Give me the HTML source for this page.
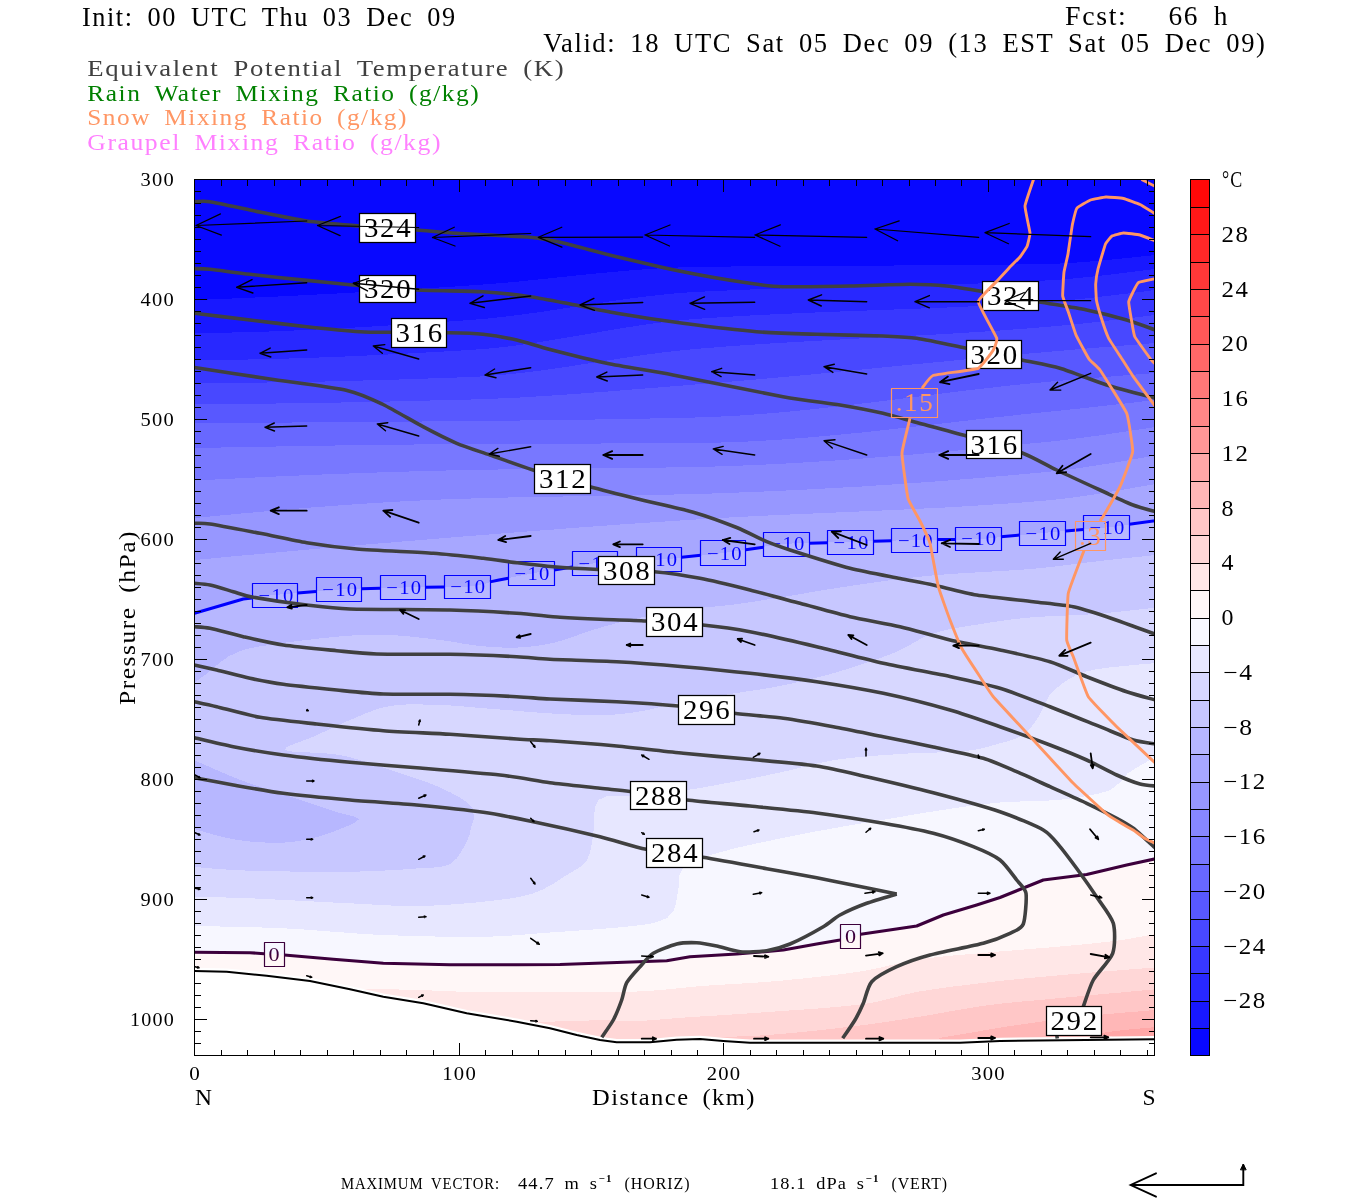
<!DOCTYPE html>
<html lang="en"><head><meta charset="utf-8"><title>Cross section: temperature, theta-e, mixing ratios</title>
<style>html,body{margin:0;padding:0;background:#fff}svg{display:block}text{font-family:"Liberation Serif", serif;}</style>
</head><body>
<svg width="1350" height="1200" viewBox="0 0 1350 1200">
<rect x="0" y="0" width="1350" height="1200" fill="#fff"/>
<defs><clipPath id="pc"><rect x="194.5" y="179.5" width="960" height="876"/></clipPath></defs>
<g clip-path="url(#pc)" shape-rendering="crispEdges">
<rect x="194.5" y="179.5" width="960" height="876" fill="#0808ff"/>
<polygon points="192.5,300 194.5,300 210.8,299.4 227,298.7 243.3,298.1 259.6,297.3 275.9,296.6 292.1,295.8 308.4,295 324.7,294.1 340.9,293.3 357.2,292.4 373.5,291.4 389.8,290.5 406,289.5 422.3,288.5 438.6,287.5 454.8,286.5 471.1,285.4 487.4,284.2 503.7,282.9 519.9,281.4 536.2,279.7 552.5,278 568.7,276.3 585,274.6 601.3,273 617.6,271.5 633.8,270.1 650.1,268.9 666.4,268 682.6,267.3 698.9,266.9 715.2,266.7 731.4,266.5 747.7,266.3 764,266.2 780.3,266 796.5,265.9 812.8,265.8 829.1,265.7 845.3,265.7 861.6,265.6 877.9,265.5 894.2,265.5 910.4,265.4 926.7,265.3 943,265.2 959.2,265.1 975.5,264.9 991.8,264.8 1008.1,264.6 1024.3,264.4 1040.6,264.1 1056.9,263.7 1073.1,262.8 1089.4,261.6 1105.7,260.1 1122,258.5 1138.2,256.8 1154.5,255.1 1156.5,255.1 1156.5,1057.5 192.5,1057.5" fill="#1818ff"/>
<polygon points="192.5,333 194.5,333 210.8,332.9 227,332.6 243.3,332.3 259.6,331.8 275.9,331.3 292.1,330.6 308.4,329.9 324.7,329.1 340.9,328.3 357.2,327.4 373.5,326.4 389.8,325.4 406,324.3 422.3,323.3 438.6,322.2 454.8,321.1 471.1,319.9 487.4,318.6 503.7,316.8 519.9,314.8 536.2,312.6 552.5,310.2 568.7,307.7 585,305.2 601.3,302.7 617.6,300.3 633.8,298 650.1,296 666.4,294.2 682.6,292.8 698.9,291.8 715.2,291 731.4,290.3 747.7,289.6 764,289 780.3,288.5 796.5,288 812.8,287.6 829.1,287.2 845.3,286.8 861.6,286.5 877.9,286.1 894.2,285.8 910.4,285.4 926.7,285 943,284.6 959.2,284.1 975.5,283.6 991.8,283 1008.1,282.3 1024.3,281.6 1040.6,280.8 1056.9,279.8 1073.1,278.5 1089.4,276.9 1105.7,275.1 1122,273.2 1138.2,271.1 1154.5,269.1 1156.5,269.1 1156.5,1057.5 192.5,1057.5" fill="#2828ff"/>
<polygon points="192.5,360 194.5,360 210.8,360 227,359.8 243.3,359.6 259.6,359.3 275.9,358.9 292.1,358.4 308.4,357.9 324.7,357.3 340.9,356.7 357.2,356 373.5,355.2 389.8,354.4 406,353.6 422.3,352.7 438.6,351.8 454.8,350.9 471.1,349.9 487.4,348.7 503.7,347 519.9,345 536.2,342.6 552.5,340 568.7,337.3 585,334.5 601.3,331.7 617.6,328.9 633.8,326.3 650.1,323.9 666.4,321.8 682.6,320.1 698.9,318.7 715.2,317.6 731.4,316.6 747.7,315.6 764,314.8 780.3,314 796.5,313.3 812.8,312.6 829.1,311.9 845.3,311.3 861.6,310.7 877.9,310.1 894.2,309.5 910.4,308.9 926.7,308.3 943,307.7 959.2,306.9 975.5,306.2 991.8,305.4 1008.1,304.5 1024.3,303.5 1040.6,302.4 1056.9,301.2 1073.1,299.7 1089.4,298 1105.7,296.1 1122,294.2 1138.2,292.2 1154.5,290.1 1156.5,290.1 1156.5,1057.5 192.5,1057.5" fill="#3838ff"/>
<polygon points="192.5,383 194.5,383 210.8,383 227,382.9 243.3,382.8 259.6,382.6 275.9,382.4 292.1,382.1 308.4,381.8 324.7,381.5 340.9,381.1 357.2,380.7 373.5,380.2 389.8,379.8 406,379.3 422.3,378.7 438.6,378.2 454.8,377.6 471.1,377 487.4,376.1 503.7,374.7 519.9,373.1 536.2,371.1 552.5,368.9 568.7,366.5 585,363.9 601.3,361.4 617.6,358.9 633.8,356.4 650.1,354.1 666.4,352 682.6,350.2 698.9,348.7 715.2,347.4 731.4,346.1 747.7,345 764,343.9 780.3,342.9 796.5,341.9 812.8,341 829.1,340.1 845.3,339.2 861.6,338.4 877.9,337.5 894.2,336.7 910.4,335.8 926.7,335 943,334.1 959.2,333.1 975.5,332.1 991.8,331.1 1008.1,329.9 1024.3,328.7 1040.6,327.4 1056.9,326 1073.1,324.5 1089.4,322.8 1105.7,320.9 1122,319 1138.2,317.1 1154.5,315.1 1156.5,315.1 1156.5,1057.5 192.5,1057.5" fill="#4848ff"/>
<polygon points="192.5,404 194.5,404 210.8,404 227,403.9 243.3,403.8 259.6,403.7 275.9,403.5 292.1,403.3 308.4,403.1 324.7,402.8 340.9,402.5 357.2,402.2 373.5,401.9 389.8,401.5 406,401.1 422.3,400.7 438.6,400.3 454.8,399.9 471.1,399.5 487.4,398.9 503.7,398.3 519.9,397.5 536.2,396.5 552.5,395.5 568.7,394.4 585,393.2 601.3,392 617.6,390.7 633.8,389.4 650.1,388.1 666.4,386.8 682.6,385.5 698.9,384.2 715.2,382.9 731.4,381.6 747.7,380.2 764,378.8 780.3,377.3 796.5,375.8 812.8,374.3 829.1,372.7 845.3,371.1 861.6,369.5 877.9,367.9 894.2,366.3 910.4,364.7 926.7,363.1 943,361.6 959.2,360 975.5,358.4 991.8,356.9 1008.1,355.4 1024.3,353.9 1040.6,352.5 1056.9,351.1 1073.1,349.7 1089.4,348.3 1105.7,347 1122,345.7 1138.2,344.4 1154.5,343.1 1156.5,343.1 1156.5,1057.5 192.5,1057.5" fill="#5858ff"/>
<polygon points="192.5,423 194.5,423 210.8,423 227,422.9 243.3,422.8 259.6,422.7 275.9,422.6 292.1,422.5 308.4,422.4 324.7,422.3 340.9,422.2 357.2,422.1 373.5,421.9 389.8,421.8 406,421.6 422.3,421.5 438.6,421.3 454.8,421.2 471.1,421 487.4,420.8 503.7,420.7 519.9,420.5 536.2,420.3 552.5,420.1 568.7,419.9 585,419.7 601.3,419.4 617.6,419.1 633.8,418.8 650.1,418.5 666.4,418.2 682.6,417.8 698.9,417.4 715.2,416.8 731.4,416 747.7,415 764,413.8 780.3,412.4 796.5,410.9 812.8,409.2 829.1,407.4 845.3,405.6 861.6,403.6 877.9,401.6 894.2,399.6 910.4,397.5 926.7,395.5 943,393.4 959.2,391.4 975.5,389.4 991.8,387.6 1008.1,385.7 1024.3,384.1 1040.6,382.5 1056.9,381 1073.1,379.6 1089.4,378.3 1105.7,376.9 1122,375.6 1138.2,374.3 1154.5,373.1 1156.5,373.1 1156.5,1057.5 192.5,1057.5" fill="#6868ff"/>
<polygon points="192.5,448 194.5,448 210.8,447.7 227,447.4 243.3,447.1 259.6,446.8 275.9,446.5 292.1,446.2 308.4,445.9 324.7,445.7 340.9,445.4 357.2,445.2 373.5,445 389.8,444.8 406,444.6 422.3,444.4 438.6,444.2 454.8,444.1 471.1,444 487.4,443.9 503.7,443.8 519.9,443.7 536.2,443.7 552.5,443.6 568.7,443.6 585,443.5 601.3,443.5 617.6,443.4 633.8,443.4 650.1,443.3 666.4,443.2 682.6,443.1 698.9,443 715.2,442.7 731.4,442.2 747.7,441.5 764,440.6 780.3,439.6 796.5,438.4 812.8,437.1 829.1,435.6 845.3,434.1 861.6,432.5 877.9,430.7 894.2,429 910.4,427.1 926.7,425.3 943,423.4 959.2,421.5 975.5,419.6 991.8,417.8 1008.1,416 1024.3,414.2 1040.6,412.5 1056.9,410.9 1073.1,409.2 1089.4,407.5 1105.7,405.7 1122,403.8 1138.2,402 1154.5,400.1 1156.5,400.1 1156.5,1057.5 192.5,1057.5" fill="#7878ff"/>
<polygon points="192.5,480.5 194.5,480.5 210.8,479.7 227,478.9 243.3,478.1 259.6,477.3 275.9,476.5 292.1,475.8 308.4,475.1 324.7,474.4 340.9,473.8 357.2,473.2 373.5,472.6 389.8,472.1 406,471.6 422.3,471.1 438.6,470.7 454.8,470.3 471.1,470 487.4,469.7 503.7,469.4 519.9,469.2 536.2,469 552.5,468.9 568.7,468.7 585,468.5 601.3,468.4 617.6,468.2 633.8,468 650.1,467.8 666.4,467.5 682.6,467.2 698.9,466.9 715.2,466.5 731.4,466 747.7,465.3 764,464.6 780.3,463.8 796.5,462.9 812.8,461.9 829.1,460.9 845.3,459.8 861.6,458.6 877.9,457.3 894.2,456 910.4,454.7 926.7,453.3 943,451.8 959.2,450.4 975.5,448.8 991.8,447.3 1008.1,445.7 1024.3,444.1 1040.6,442.5 1056.9,440.9 1073.1,438.9 1089.4,436.8 1105.7,434.5 1122,432.1 1138.2,429.6 1154.5,427.2 1156.5,427.2 1156.5,1057.5 192.5,1057.5" fill="#8787ff"/>
<polygon points="192.5,518 194.5,518 210.8,516.4 227,514.9 243.3,513.3 259.6,511.9 275.9,510.4 292.1,509.1 308.4,507.7 324.7,506.5 340.9,505.3 357.2,504.1 373.5,503.1 389.8,502.1 406,501.2 422.3,500.4 438.6,499.6 454.8,499 471.1,498.5 487.4,498 503.7,497.6 519.9,497.3 536.2,497 552.5,496.7 568.7,496.4 585,496.2 601.3,495.9 617.6,495.7 633.8,495.4 650.1,495.1 666.4,494.7 682.6,494.3 698.9,493.9 715.2,493.4 731.4,492.8 747.7,492.2 764,491.5 780.3,490.8 796.5,490 812.8,489.2 829.1,488.3 845.3,487.4 861.6,486.5 877.9,485.4 894.2,484.4 910.4,483.2 926.7,482.1 943,480.9 959.2,479.6 975.5,478.3 991.8,476.9 1008.1,475.5 1024.3,474 1040.6,472.5 1056.9,470.9 1073.1,468.9 1089.4,466.5 1105.7,464 1122,461.3 1138.2,458.5 1154.5,455.7 1156.5,455.7 1156.5,1057.5 192.5,1057.5" fill="#9797ff"/>
<polygon points="192.5,560 194.5,560 210.8,558.5 227,556.9 243.3,555.4 259.6,554 275.9,552.5 292.1,551 308.4,549.6 324.7,548.1 340.9,546.7 357.2,545.3 373.5,543.9 389.8,542.6 406,541.2 422.3,539.9 438.6,538.5 454.8,537.2 471.1,535.9 487.4,534.6 503.7,533.3 519.9,532.1 536.2,530.8 552.5,529.6 568.7,528.3 585,527.1 601.3,525.9 617.6,524.7 633.8,523.6 650.1,522.5 666.4,521.4 682.6,520.3 698.9,519.3 715.2,518.3 731.4,517.4 747.7,516.5 764,515.7 780.3,515 796.5,514.2 812.8,513.5 829.1,512.8 845.3,512.1 861.6,511.4 877.9,510.7 894.2,510 910.4,509.2 926.7,508.4 943,507.6 959.2,506.7 975.5,505.7 991.8,504.6 1008.1,503.5 1024.3,502.3 1040.6,501 1056.9,499.4 1073.1,497.5 1089.4,495.2 1105.7,492.6 1122,489.9 1138.2,487 1154.5,484.2 1156.5,484.2 1156.5,1057.5 192.5,1057.5" fill="#a7a7ff"/>
<polygon points="192.5,613.3 194.5,613.3 200,611.6 207.8,609.2 216.9,606.4 226.5,603.5 235.6,601 243.3,599 253.9,597 262.7,596.1 275,595 281.5,594.4 288.7,593.6 296.6,592.9 305,592.1 313.6,591.4 322.2,590.7 330.8,590 339,589.5 347,589.1 355,588.7 363,588.4 371,588.2 379,588 387,587.8 395,587.7 403,587.5 411.2,587.4 419.8,587.4 428.4,587.4 437,587.4 445.3,587.4 453.2,587.3 460.5,587.1 467,586.7 477.2,585.4 485,583.7 491.8,581.8 499,580 506.2,578.5 513,577.1 520.8,575.6 531,573.7 537.5,572.5 544.8,571.2 552.7,569.8 561,568.3 569.6,566.9 578.2,565.5 586.8,564.3 595,563.3 603,562.5 611,562 619,561.6 627,561.3 635,561 643,560.7 651,560.3 659,559.7 667,559 675,558.3 683,557.5 691.1,556.7 699.1,555.8 707.1,554.9 715,554 723,553 732,551.8 741,550.4 750,548.9 759,547.5 768,546.1 777,544.9 786,544 793.9,543.4 801.9,543 809.9,542.7 817.9,542.6 825.9,542.4 833.9,542.3 841.9,542.2 850,542 858.1,541.7 866.2,541.5 874.4,541.2 882.6,540.9 890.7,540.7 898.9,540.4 907,540.2 915,540 924.1,539.8 933.1,539.8 942.1,539.8 951,539.7 960,539.6 969,539.4 978,539 986,538.5 993.9,537.8 1001.9,537.1 1009.9,536.3 1018,535.4 1026,534.6 1034,533.8 1042,533 1050.1,532.3 1058.3,531.6 1066.6,531 1074.9,530.3 1083.1,529.6 1091,529 1098.7,528.2 1106,527.5 1115.7,526.4 1125.4,525.1 1134.8,523.8 1143.2,522.5 1150.3,521.5 1155.5,520.7 1156.5,520.7 1156.5,1057.5 192.5,1057.5" fill="#b7b7ff"/>
<polygon points="192.5,682.5 194.5,682.5 205,675 211.9,669 220,662.5 228.6,656.4 240,651 247.4,648.9 255.8,647.1 265.6,645.5 277.5,643.7 284.7,642.7 292.8,641.6 301.6,640.5 310.8,639.5 320,638.4 329,637.5 337.4,636.6 345,636 355.4,635.3 364.4,634.8 372.7,634.6 381,634.7 390,635 398.2,635.5 406.7,636.2 415.3,637.1 423.9,638 432.2,639 440,640 448.7,641.2 456.8,642.5 464.7,643.9 472.3,645.1 480,646 489.6,646.8 498.9,647.4 508.2,647.7 517.5,647.5 526.9,646.9 536.2,645.9 545.6,644.4 555,642.5 564.4,639.8 573.8,636.6 583.1,633.1 592.5,630 601.6,627.3 610.5,624.8 619.7,622.4 630,620 637.6,618.3 645.7,616.5 654.2,614.7 662.9,613 671.5,611.4 680,610 688.3,608.9 696.7,608.1 705,607.3 713.3,606.7 721.7,605.9 730,605 738.1,603.9 745.9,602.8 753.8,601.7 761.9,600.4 770.5,599 780,597.5 787.7,596.2 795.8,594.9 804.3,593.4 813,591.9 822,590.4 831.2,588.9 840.5,587.4 850,586 857.6,584.9 865.4,583.8 873.2,582.7 881.2,581.5 889.2,580.4 897.5,579.4 905.8,578.3 914.4,577.3 923.1,576.4 932,575.5 939.7,574.8 947.7,574.2 956,573.6 964.5,573.1 973.1,572.6 981.8,572.1 990.3,571.6 998.8,571.1 1007.1,570.6 1015.1,570.1 1022.8,569.6 1030,569 1040.2,568.1 1049.8,567.1 1058.9,566 1067.7,565 1076,563.9 1084.2,562.9 1092.1,561.9 1100,561 1110.7,559.8 1121.6,558.6 1132.1,557.5 1141.6,556.5 1149.6,555.6 1155.5,555 1156.5,555 1156.5,1057.5 192.5,1057.5" fill="#c7c7ff"/>
<polygon points="1156.5,607.7 1155.5,607.7 1150.1,608.3 1142.8,609.1 1134,610.1 1124.4,611.2 1114.4,612.2 1104.4,613.2 1095,614 1087,614.6 1078.7,615 1070.3,615.4 1061.8,615.7 1053.4,616.1 1045.2,616.5 1037.4,616.9 1030,617.5 1020.9,618.4 1012.5,619.3 1004.5,620.4 996.7,621.5 989,622.7 981,624 972.8,625.3 964.4,626.6 956.1,628 947.9,629.6 940,631.5 932.5,633.7 924.4,636.9 917.2,640.7 910,644.8 902.4,649 893.5,653 886.1,655.8 878.1,658.8 869.6,661.8 860.8,664.7 852,667.5 843.3,670.2 835,672.7 826.9,675 818.9,677.1 810.9,679.1 803,681 795.2,682.8 787.6,684.4 780,686 771.4,687.6 763,689 754.7,690.3 746.5,691.5 738.3,692.7 730,694 721.5,695.4 712.9,696.8 704.2,698.2 695.7,699.6 687.6,701.1 680,702.5 669.7,704.7 660.5,707 651.6,709.2 642.5,711 633.4,712.4 624.5,713.6 615.3,714.5 605,715 597.6,715.1 589.8,715.1 581.7,714.9 573.2,714.6 564.3,714.2 555,713.7 547.5,713.2 539.5,712.7 531.1,712 522.5,711.4 513.9,710.6 505.5,709.9 497.5,709.3 490,708.7 480.8,708 472.2,707.2 464.1,706.5 456.1,705.8 448.2,705.3 440,705 431.6,704.7 423,704.5 414.4,704.4 405.9,704.5 397.8,705 390,706 381.3,707.9 373,710.6 365.2,713.6 357.5,716.9 350,720 340.8,723.9 331.9,728 323.3,732.1 315,736 305.2,739.9 294.4,743.7 286.4,747.2 285,750 289.3,751.2 297.2,752 307.5,752.4 318.9,752.9 330.1,753.7 340,755 348.6,756.9 357,759.2 365.3,761.7 373.5,764.4 381.7,767.2 390,770 398.5,772.7 407.3,775.6 416.1,778.4 424.6,781.4 432.7,784.4 440,787.5 450.2,792.3 459.5,797.3 467.2,802.4 472.5,807.5 474.1,817.8 471,827.5 469.4,835.2 466,843 462.1,850.2 457.1,858 450,864 443.5,866.3 436.1,867.4 427.2,867.9 416,868.5 409.5,869 402.5,869.5 395.1,870 387.1,870.4 378.6,870.9 369.6,871.2 360.1,871.5 350,871.7 342.7,871.8 334.8,871.8 326.3,871.8 317.5,871.8 308.5,871.7 299.3,871.6 290.2,871.5 281.3,871.4 272.7,871.2 264.5,871.1 256.9,870.9 250,870.7 237.5,870.2 226.1,869.5 216,868.8 207.2,868.1 200,867.4 194.5,867 192.5,867 192.5,1057.5 1156.5,1057.5" fill="#d7d7ff"/>
<polygon points="192.5,760.4 194.5,760.4 199.8,762.7 207,765.8 215.6,769.6 224.9,773.6 234.3,777.5 243.3,781 250.8,783.7 258.5,786.4 266.4,789 274.3,791.5 282,794 289.6,796.4 296.7,798.7 306.4,801.9 315.9,805.1 324.9,808 333,810.7 340,813 353.7,816.3 359.5,819.1 352.5,823.9 340,829 332.3,832.1 324.1,835 315,837.5 307.7,839.2 299.9,840.8 291.7,842 283,842.7 275.3,842.8 267,842.6 258.5,842.1 250.4,841.5 243,840.7 232.5,839.1 223.3,837.1 215,835 203,831.6 194.5,829 192.5,829" fill="#b7b7ff"/>
<polygon points="192.5,896.7 194.5,896.7 200,896.8 207.2,897 216,897.2 226.1,897.5 237.5,897.8 250,898.3 256.9,898.6 264.5,899 272.7,899.4 281.3,899.8 290.2,900.3 299.3,900.7 308.4,901.2 317.5,901.7 326.3,902.1 334.7,902.6 342.7,903 350,903.3 359.9,903.8 369,904.3 377.5,904.8 385.4,905.2 393.2,905.6 400.8,905.9 408.6,906 416.7,906 425.1,905.8 433.7,905.5 442.4,905.1 451,904.5 459.5,903.9 467.8,903.2 475.8,902.5 483.3,901.7 492.8,900.7 501.8,899.6 510.4,898.4 518.5,897 526.1,895.3 533.3,893.3 543.1,889.3 551.9,884.6 559.7,879.6 566.7,875 575,870.2 581.8,865.7 587,860 590.2,852.2 591.8,843.1 593.3,833.3 594,824.8 594.2,815.2 595.2,806.4 598.3,800 606.2,796.5 617.1,796.3 630,796 637.3,795.3 645.3,794.5 653.9,793.8 662.7,793 671.5,792 680,791 688.3,789.8 696.7,788.5 705,787.1 713.3,785.6 721.7,784 730,782.5 738.3,780.9 746.5,779.4 754.7,777.8 763,776.1 771.4,774.3 780,772.5 787.5,770.8 795.1,768.9 802.7,767 810.5,765 818.4,763.2 826.6,761.5 835,760 842.6,758.9 850.5,758 858.6,757.1 866.9,756.4 875.2,755.7 883.5,755.1 891.8,754.6 900,754 908.3,753.5 917,753.1 925.8,752.8 934.5,752.6 943,752.3 951,752 958.4,751.5 965,751 975.6,749.6 983.7,747.9 990.6,746 997.5,744 1007,741.4 1015.8,738.5 1023.5,734.5 1029.9,728.7 1035.1,721.9 1039.7,715 1044.4,705.1 1049.5,695.5 1055,689.5 1061.7,683.9 1069,679 1075.9,675.2 1083.5,672.2 1095,669.5 1102.4,668.4 1111.5,667.2 1121.7,666.2 1132,665.2 1141.6,664.3 1149.7,663.6 1155.5,663 1156.5,663 1156.5,1057.5 192.5,1057.5" fill="#e7e7ff"/>
<polygon points="192.5,926 194.5,926 199.2,926.1 205.1,926.2 212,926.3 219.8,926.5 228.2,926.6 237.2,926.8 246.4,927 255.9,927.3 265.3,927.6 274.5,927.9 283.3,928.3 291.2,928.7 299.3,929.2 307.5,929.8 315.8,930.4 324.2,931 332.6,931.7 341.1,932.3 349.6,933 358,933.6 366.5,934.1 374.9,934.6 383.3,935 391.7,935.3 400.4,935.6 409.1,935.9 417.9,936.2 426.7,936.4 435.4,936.5 444,936.7 452.4,936.8 460.6,936.8 468.6,936.8 476.1,936.8 483.3,936.7 493.2,936.5 502.2,936.1 510.6,935.6 518.5,935 526.2,934.4 533.9,933.8 541.7,933.1 550,932.5 558.8,931.9 568,931.3 577.4,930.6 586.8,930 596,929.3 604.7,928.6 612.8,928 620,927.3 632.1,926.1 642,925 650.2,923.7 657.3,922 667.3,917.8 673.3,911.3 675.9,904.2 677.3,895.6 678.7,887.3 679,876.1 684,866 689.8,862.5 697.4,859.3 706.3,856.3 716.2,853.4 726.7,850.5 733.8,848.6 741.5,846.8 749.7,844.9 758.2,843.1 766.7,841.3 775,839.6 782.8,838 790,836.5 799.9,834.5 808.4,832.8 816.4,831.3 825,829.8 835,828 842.4,826.7 850.6,825.3 859.3,823.8 868.3,822.3 877.1,820.8 885.6,819.4 893.3,818.1 900,817 909.6,815.3 916.2,814.1 922.9,813 932.5,811.5 939.1,810.5 946.5,809.4 954.5,808.2 963,807 971.7,805.7 980.5,804.6 989.2,803.6 997.5,802.7 1005.7,802.1 1014.1,801.7 1022.6,801.4 1031,801.2 1039.3,800.9 1047.4,800.6 1055.2,800.2 1062.5,799.5 1071.9,798.3 1081.1,797 1089.8,795.4 1097.8,793.7 1105,791.8 1111,789.7 1120.5,782 1127.5,773.5 1134.3,769 1142.5,764.2 1150.2,760 1155.5,757 1156.5,757 1156.5,1057.5 192.5,1057.5" fill="#f7f7ff"/>
<polygon points="192.5,952.3 194.5,952.3 200.8,952.3 209.7,952.3 220.1,952.4 231,952.4 241.3,952.5 250,952.7 259.7,953.1 267.6,953.6 275.2,954.2 284.3,955 291.6,955.6 299.5,956.3 307.8,957 316.3,957.8 324.9,958.6 333.3,959.3 341.4,960 349.3,960.8 357.2,961.5 365.4,962.2 374,962.8 383.3,963.3 390.8,963.6 398.8,963.9 407.1,964.1 415.6,964.2 424.3,964.4 432.9,964.5 441.5,964.6 450,964.7 458.5,964.8 467.2,964.8 476,964.8 484.8,964.8 493.4,964.8 501.7,964.7 509.5,964.7 516.7,964.7 526.8,964.7 535.4,964.7 543.3,964.7 551.3,964.6 560,964.5 567.9,964.3 575.9,964 584.2,963.7 592.6,963.4 601.2,963 610,962.7 618,962.4 626.7,962.2 635.6,962 644.4,961.7 652.7,961.4 660.3,961.1 666.7,960.7 679,958.7 690,956.7 697.8,956.1 707,955.6 716.9,955.1 727,954.6 736.7,954 746.2,953.3 756,952.6 765.6,951.8 774.8,950.9 783.3,950 792.8,948.6 801.5,947 809.4,945.4 816.7,944 829.1,942 840,940 848.3,937.4 860.7,934.3 867.1,933.3 875,932.2 883.8,931.1 892.9,929.9 901.8,928.6 909.9,927.4 916.7,926 927.5,922.5 935,918.7 943.3,915 951.4,912.4 960.2,909.8 968.9,907.3 976.7,905 984.5,902.7 991.1,900.6 1000,897.5 1007.4,894.4 1015.9,890.6 1025,886.6 1034.3,882.9 1043.3,880 1052,878.2 1060.8,877.1 1069.6,876.4 1078.2,875.7 1086.7,874.5 1095.1,872.8 1103.5,870.8 1111.7,868.8 1119.5,866.8 1126.7,865 1138.2,862.4 1148.4,860.2 1155.5,858.7 1156.5,858.7 1156.5,1057.5 192.5,1057.5" fill="#fff7f7"/>
<polygon points="192.5,992 194.5,992 199.1,991.9 204.8,991.8 211.3,991.7 218.6,991.5 226.6,991.3 235.1,991.1 244.2,990.9 253.6,990.7 263.2,990.5 273,990.3 282.8,990.1 292.6,989.9 302.2,989.8 311.5,989.6 320.4,989.4 328.8,989.3 336.6,989.2 343.7,989.1 350,989 362.6,988.9 372.9,988.9 381.5,989 388.9,989.2 395.6,989.4 402.1,989.6 409,989.8 416.7,990 425.1,990.2 433.6,990.6 442.1,990.9 450.6,991.3 459.1,991.6 467.3,991.9 475.4,992.1 483.3,992.3 491.6,992.4 499.1,992.3 506.3,992.2 513.6,992 521.3,991.8 530,991.7 540,991.6 547.3,991.6 555.2,991.6 563.7,991.7 572.7,991.8 581.9,991.9 591.2,992 600.5,992 609.6,992 618.5,991.9 626.9,991.8 634.8,991.6 644.8,991.1 654.2,990.5 663.2,989.8 671.8,988.9 680.3,988.1 688.7,987.2 697.2,986.4 705.9,985.7 714.7,985.1 723.4,984.6 732,984.1 740.7,983.6 749.5,983.1 758.4,982.5 767.5,981.8 777,981 784.9,980.3 793.2,979.4 801.8,978.6 810.5,977.7 819.3,976.7 828,975.7 836.5,974.7 844.8,973.6 852.6,972.6 860,971.5 869.6,969.9 878.3,968.1 886.4,966.2 894.2,964.4 902,962.6 910.2,960.9 918.9,959.4 927,958.3 935.4,957.3 944,956.4 952.7,955.5 961.5,954.8 970.3,954 979.1,953.3 987.8,952.5 996.5,951.7 1005.3,951 1014.1,950.3 1023,949.6 1031.7,948.9 1040.3,948.2 1048.6,947.5 1056.7,946.8 1065.6,946 1074.4,945.2 1082.9,944.4 1091.2,943.6 1099.1,942.7 1106.7,941.9 1114,941 1124,939.6 1133.7,938 1142.6,936.4 1150.1,935 1155.5,934 1156.5,934 1156.5,1057.5 192.5,1057.5" fill="#ffe7e7"/>
<polygon points="192.5,1022 194.5,1022 198.8,1022 203.6,1022 208.9,1022 214.7,1022 220.9,1022 227.5,1022 234.5,1022 241.8,1022 249.5,1022 257.6,1022 265.9,1022 274.5,1022 283.3,1022 292.3,1022 301.5,1022 310.9,1022 320.5,1022 330.1,1022 339.9,1022 349.7,1022 359.6,1022 369.4,1022 379.3,1021.9 389.2,1021.9 399,1021.9 408.7,1021.9 418.3,1021.9 427.7,1021.9 437.1,1021.9 446.2,1021.9 455.1,1021.9 463.9,1021.9 472.3,1021.9 480.5,1021.8 488.4,1021.8 495.9,1021.8 503.1,1021.8 510,1021.8 516.4,1021.8 522.4,1021.7 527.9,1021.7 533,1021.7 554.6,1021.5 569.6,1021.3 579.4,1021 585.5,1020.8 589.2,1020.5 591.9,1020.3 595,1020.1 600,1020 610.7,1020.2 618.6,1020.7 626,1021.2 634.8,1021.2 643.1,1020.8 651.6,1020.2 660.8,1019.4 670.8,1018.6 682,1017.7 689.5,1017.2 697.3,1016.7 705.4,1016.2 713.9,1015.7 722.9,1015.1 732.4,1014.5 742.5,1013.8 753.3,1013 760.5,1012.5 768.2,1011.9 776.5,1011.4 785.1,1010.8 793.9,1010.2 802.9,1009.6 811.9,1008.9 820.8,1008.3 829.5,1007.6 837.9,1006.8 845.9,1006.1 853.3,1005.3 860,1004.5 870.8,1002.9 880,1001 888.1,999.1 895.5,997.1 902.7,995.1 910.4,993.3 918.9,991.6 927,990.3 935.4,989 944,987.8 952.7,986.6 961.5,985.5 970.3,984.5 979.1,983.4 987.8,982.4 996.2,981.4 1004.3,980.5 1012.3,979.7 1020.4,978.9 1028.7,978.1 1037.4,977.3 1046.7,976.4 1056.7,975.5 1064.2,974.8 1072.6,974.1 1081.6,973.4 1091.1,972.6 1100.7,971.8 1110.4,971 1119.8,970.3 1128.8,969.5 1137,968.9 1144.4,968.3 1150.6,967.8 1155.5,967.4 1156.5,967.4 1156.5,1057.5 192.5,1057.5" fill="#ffd7d7"/>
<polygon points="192.5,1045 194.5,1045 198.8,1045 203.4,1044.9 208.5,1044.9 213.9,1044.8 219.7,1044.8 225.8,1044.7 232.3,1044.7 239.1,1044.6 246.2,1044.6 253.5,1044.5 261.2,1044.4 269.1,1044.4 277.2,1044.3 285.6,1044.2 294.1,1044.2 302.9,1044.1 311.9,1044 321,1044 330.3,1043.9 339.7,1043.8 349.2,1043.7 358.8,1043.6 368.6,1043.6 378.4,1043.5 388.3,1043.4 398.2,1043.3 408.1,1043.2 418.1,1043.2 428.1,1043.1 438.1,1043 448,1042.9 457.9,1042.8 467.7,1042.7 477.5,1042.6 487.2,1042.6 496.8,1042.5 506.3,1042.4 515.6,1042.3 524.8,1042.2 533.8,1042.1 542.7,1042.1 551.4,1042 559.8,1041.9 568.1,1041.8 576.1,1041.7 583.8,1041.7 591.3,1041.6 598.5,1041.5 605.5,1041.4 612.1,1041.3 618.4,1041.3 624.3,1041.2 629.9,1041.1 635.2,1041.1 640,1041 666.4,1040.6 683.1,1040.2 692.3,1039.8 696.4,1039.4 697.6,1039 698,1038.6 700.1,1038.2 706,1037.8 714.6,1037.4 723.1,1037.1 731.7,1036.7 740.4,1036.4 749.3,1036 758.3,1035.6 767.5,1035 777,1034.3 784.9,1033.6 793.2,1032.9 801.8,1032 810.5,1031.2 819.3,1030.2 828,1029.3 836.5,1028.3 844.8,1027.3 852.6,1026.4 860,1025.5 869.6,1024.3 878.3,1023.1 886.4,1021.9 894.2,1020.7 902,1019.5 910.2,1018.2 918.9,1016.8 927,1015.5 935.4,1014 944,1012.5 952.7,1010.9 961.5,1009.4 970.3,1007.9 979.1,1006.5 987.8,1005.3 996.2,1004.2 1004.3,1003.3 1012.3,1002.5 1020.4,1001.7 1028.7,1000.9 1037.4,1000.2 1046.7,999.3 1056.7,998.4 1064.2,997.7 1072.6,996.9 1081.6,996.1 1091.1,995.2 1100.7,994.3 1110.4,993.4 1119.8,992.6 1128.8,991.7 1137,991 1144.4,990.3 1150.6,989.7 1155.5,989.3 1156.5,989.3 1156.5,1057.5 192.5,1057.5" fill="#ffc7c7"/>
<polygon points="192.5,1060 194.5,1060 198.7,1059.9 203.1,1059.8 207.8,1059.7 212.8,1059.6 218,1059.5 223.4,1059.4 229.1,1059.3 235,1059.2 241.2,1059.1 247.6,1059 254.1,1058.8 260.9,1058.7 267.9,1058.6 275.1,1058.4 282.4,1058.3 290,1058.2 297.7,1058 305.6,1057.9 313.6,1057.7 321.8,1057.6 330.2,1057.4 338.7,1057.2 347.3,1057.1 356.1,1056.9 364.9,1056.7 373.9,1056.6 383,1056.4 392.2,1056.2 401.5,1056 410.9,1055.9 420.4,1055.7 430,1055.5 439.6,1055.3 449.3,1055.1 459,1055 468.8,1054.8 478.7,1054.6 488.6,1054.4 498.5,1054.2 508.4,1054 518.4,1053.8 528.4,1053.6 538.4,1053.4 548.4,1053.2 558.4,1053 568.3,1052.9 578.3,1052.7 588.2,1052.5 598.1,1052.3 608,1052.1 617.8,1051.9 627.6,1051.7 637.3,1051.5 646.9,1051.3 656.5,1051.1 666,1050.9 675.4,1050.7 684.8,1050.5 694,1050.3 703.2,1050.1 712.2,1050 721.1,1049.8 729.9,1049.6 738.6,1049.4 747.1,1049.2 755.5,1049 763.8,1048.9 771.8,1048.7 779.8,1048.5 787.6,1048.3 795.2,1048.1 802.6,1048 809.8,1047.8 816.9,1047.6 823.7,1047.5 830.4,1047.3 836.8,1047.2 843,1047 849,1046.9 854.8,1046.7 860.3,1046.6 865.6,1046.4 870.7,1046.3 875.5,1046.1 880,1046 921.5,1044.5 942.9,1043.3 949.8,1042.1 947.5,1041.1 941.8,1040 938.1,1038.8 941.8,1037.5 950.1,1036.2 958.5,1034.8 967.1,1033.3 975.8,1031.8 984.6,1030.3 993.3,1028.8 1002,1027.3 1010.7,1026 1019.3,1024.7 1027.8,1023.5 1036.2,1022.3 1044.7,1021.1 1053.2,1020 1061.9,1018.9 1070.7,1017.8 1079.6,1016.8 1088.1,1015.9 1097.5,1015 1107.2,1014.1 1117,1013.2 1126.6,1012.4 1135.6,1011.7 1143.6,1011 1150.4,1010.4 1155.5,1010 1156.5,1010 1156.5,1057.5 192.5,1057.5" fill="#ffb7b7"/>
<polygon points="192.5,1070 194.5,1070 198.6,1069.9 203,1069.8 207.6,1069.6 212.4,1069.5 217.3,1069.4 222.5,1069.2 227.9,1069.1 233.5,1068.9 239.3,1068.8 245.3,1068.6 251.4,1068.4 257.8,1068.3 264.3,1068.1 270.9,1067.9 277.8,1067.7 284.8,1067.5 291.9,1067.4 299.2,1067.2 306.7,1067 314.3,1066.8 322,1066.6 329.9,1066.4 337.9,1066.1 346,1065.9 354.3,1065.7 362.7,1065.5 371.2,1065.3 379.8,1065 388.5,1064.8 397.3,1064.6 406.2,1064.3 415.2,1064.1 424.3,1063.9 433.4,1063.6 442.7,1063.4 452,1063.1 461.4,1062.9 470.9,1062.6 480.4,1062.4 490,1062.1 499.7,1061.9 509.4,1061.6 519.2,1061.3 528.9,1061.1 538.8,1060.8 548.6,1060.6 558.5,1060.3 568.5,1060 578.4,1059.8 588.4,1059.5 598.4,1059.2 608.3,1059 618.3,1058.7 628.3,1058.4 638.3,1058.1 648.3,1057.9 658.3,1057.6 668.2,1057.3 678.1,1057.1 688.1,1056.8 697.9,1056.5 707.8,1056.2 717.6,1056 727.4,1055.7 737.1,1055.4 746.7,1055.2 756.4,1054.9 765.9,1054.6 775.4,1054.3 784.8,1054.1 794.2,1053.8 803.5,1053.6 812.7,1053.3 821.8,1053 830.8,1052.8 839.8,1052.5 848.6,1052.2 857.4,1052 866,1051.7 874.5,1051.5 883,1051.2 891.2,1051 899.4,1050.7 907.5,1050.5 915.4,1050.2 923.2,1050 930.8,1049.8 938.3,1049.5 945.7,1049.3 952.9,1049.1 960,1048.8 966.8,1048.6 973.6,1048.4 980.1,1048.2 986.5,1048 992.7,1047.7 998.8,1047.5 1004.6,1047.3 1010.3,1047.1 1015.7,1046.9 1021,1046.7 1026.1,1046.5 1030.9,1046.4 1035.6,1046.2 1040,1046 1090.1,1043.5 1115.2,1041.3 1122.1,1039.2 1117.5,1037.4 1108.2,1035.8 1101,1034.3 1102.6,1032.9 1112.6,1031.4 1122.9,1030.2 1133,1029.1 1142.1,1028.3 1149.9,1027.6 1155.5,1027 1156.5,1027 1156.5,1057.5 192.5,1057.5" fill="#ffa7a7"/>
<polygon points="192.5,971 194.5,971 226.7,971.7 266.7,975.7 310,981 350,989.3 383.3,996.7 423.3,1003.3 466.7,1013.3 516.7,1021.7 550,1028.3 576.7,1035 600,1040 616.7,1042.3 650,1042.3 676.7,1039.8 700,1039 723.3,1041 750,1042.7 960,1042.7 1000,1041 1155.5,1039.3 1156.5,1039.3 1156.5,1057.5 192.5,1057.5" fill="#fff"/>
</g>
<g clip-path="url(#pc)" fill="none" stroke-linejoin="round" stroke-linecap="butt">
<path d="M194.5 971 L226.7 971.7 L266.7 975.7 L310 981 L350 989.3 L383.3 996.7 L423.3 1003.3 L466.7 1013.3 L516.7 1021.7 L550 1028.3 L576.7 1035 L600 1040 L616.7 1042.3 L650 1042.3 L676.7 1039.8 L700 1039 L723.3 1041 L750 1042.7 L960 1042.7 L1000 1041 L1155.5 1039.3" stroke="#fff" stroke-width="3" transform="translate(0,-1.8)"/>
<path d="M194.5 971 L226.7 971.7 L266.7 975.7 L310 981 L350 989.3 L383.3 996.7 L423.3 1003.3 L466.7 1013.3 L516.7 1021.7 L550 1028.3 L576.7 1035 L600 1040 L616.7 1042.3 L650 1042.3 L676.7 1039.8 L700 1039 L723.3 1041 L750 1042.7 L960 1042.7 L1000 1041 L1155.5 1039.3" stroke="#000" stroke-width="2"/>
<path d="M194.5 613.3 L243.3 599 L252.3 597.9" stroke="#0000ff" stroke-width="3"/>
<path d="M297.7 593 L316 591.5" stroke="#0000ff" stroke-width="3"/>
<path d="M361.7 588.8 L380 588.2" stroke="#0000ff" stroke-width="3"/>
<path d="M425.7 587.2 L444 587" stroke="#0000ff" stroke-width="3"/>
<path d="M490 581.9 L499 580 L508.3 578.2" stroke="#0000ff" stroke-width="3"/>
<path d="M554 570 L572.3 567" stroke="#0000ff" stroke-width="3"/>
<path d="M617.7 562 L636 561" stroke="#0000ff" stroke-width="3"/>
<path d="M681.7 557.3 L700.7 555.3" stroke="#0000ff" stroke-width="3"/>
<path d="M745.7 549.8 L763.3 547.2" stroke="#0000ff" stroke-width="3"/>
<path d="M809.3 543.3 L827.3 542.7" stroke="#0000ff" stroke-width="3"/>
<path d="M873.3 541.3 L891.7 540.7" stroke="#0000ff" stroke-width="3"/>
<path d="M937.7 539.6 L955 539.4" stroke="#0000ff" stroke-width="3"/>
<path d="M1001 536.8 L1019.3 535.1" stroke="#0000ff" stroke-width="3"/>
<path d="M1065.7 531 L1083.3 529.5" stroke="#0000ff" stroke-width="3"/>
<path d="M1129.3 524.3 L1155.5 520.7" stroke="#0000ff" stroke-width="3"/>
<rect x="252.5" y="583.5" width="45" height="24" stroke="#0000ff" stroke-width="1.2"/>
<rect x="316.5" y="577.5" width="45" height="24" stroke="#0000ff" stroke-width="1.2"/>
<rect x="380.5" y="575.5" width="45" height="24" stroke="#0000ff" stroke-width="1.2"/>
<rect x="444.5" y="575.5" width="46" height="23" stroke="#0000ff" stroke-width="1.2"/>
<rect x="508.5" y="561.5" width="46" height="24" stroke="#0000ff" stroke-width="1.2"/>
<rect x="572.5" y="551.5" width="45" height="24" stroke="#0000ff" stroke-width="1.2"/>
<rect x="636.5" y="547.5" width="45" height="24" stroke="#0000ff" stroke-width="1.2"/>
<rect x="700.5" y="540.5" width="45" height="25" stroke="#0000ff" stroke-width="1.2"/>
<rect x="763.5" y="532.5" width="46" height="24" stroke="#0000ff" stroke-width="1.2"/>
<rect x="827.5" y="530.5" width="46" height="24" stroke="#0000ff" stroke-width="1.2"/>
<rect x="891.5" y="528.5" width="46" height="24" stroke="#0000ff" stroke-width="1.2"/>
<rect x="955.5" y="527.5" width="46" height="23" stroke="#0000ff" stroke-width="1.2"/>
<rect x="1019.5" y="521.5" width="46" height="24" stroke="#0000ff" stroke-width="1.2"/>
<rect x="1083.5" y="515.5" width="46" height="24" stroke="#0000ff" stroke-width="1.2"/>
<path d="M194.5 952.3 L250 952.7 L264.3 953.7" stroke="#3c003c" stroke-width="3.1"/>
<path d="M284.3 955 L333.3 959.3 L383.3 963.3 L450 964.7 L516.7 964.7 L560 964.5 L610 962.7 L666.7 960.7 L690 956.7 L736.7 954 L783.3 950 L816.7 944 L840 940 L840.7 939.8" stroke="#3c003c" stroke-width="3.1"/>
<path d="M860.7 934.3 L916.7 926 L943.3 915 L976.7 905 L1000 897.5 L1043.3 880 L1086.7 874.5 L1126.7 865 L1155.5 858.7" stroke="#3c003c" stroke-width="3.1"/>
<rect x="264.5" y="942.5" width="20" height="24" stroke="#3c003c" stroke-width="1.2"/>
<rect x="840.5" y="924.5" width="20" height="24" stroke="#3c003c" stroke-width="1.2"/>
</g>
<g clip-path="url(#pc)">
<text x="258.6" y="601.7" font-size="18.6" fill="#0000ff" text-anchor="start" textLength="35.9" lengthAdjust="spacingAndGlyphs" letter-spacing="0.06em" word-spacing="0.22em">−10</text>
<text x="322.3" y="596.1" font-size="18.6" fill="#0000ff" text-anchor="start" textLength="35.9" lengthAdjust="spacingAndGlyphs" letter-spacing="0.06em" word-spacing="0.22em">−10</text>
<text x="386.3" y="593.7" font-size="18.6" fill="#0000ff" text-anchor="start" textLength="35.9" lengthAdjust="spacingAndGlyphs" letter-spacing="0.06em" word-spacing="0.22em">−10</text>
<text x="450.3" y="592.7" font-size="18.6" fill="#0000ff" text-anchor="start" textLength="35.9" lengthAdjust="spacingAndGlyphs" letter-spacing="0.06em" word-spacing="0.22em">−10</text>
<text x="514.6" y="580.1" font-size="18.6" fill="#0000ff" text-anchor="start" textLength="35.9" lengthAdjust="spacingAndGlyphs" letter-spacing="0.06em" word-spacing="0.22em">−10</text>
<text x="578.6" y="570.1" font-size="18.6" fill="#0000ff" text-anchor="start" textLength="35.9" lengthAdjust="spacingAndGlyphs" letter-spacing="0.06em" word-spacing="0.22em">−10</text>
<text x="642.3" y="566.1" font-size="18.6" fill="#0000ff" text-anchor="start" textLength="35.9" lengthAdjust="spacingAndGlyphs" letter-spacing="0.06em" word-spacing="0.22em">−10</text>
<text x="707" y="560.1" font-size="18.6" fill="#0000ff" text-anchor="start" textLength="35.9" lengthAdjust="spacingAndGlyphs" letter-spacing="0.06em" word-spacing="0.22em">−10</text>
<text x="769.6" y="550.4" font-size="18.6" fill="#0000ff" text-anchor="start" textLength="35.9" lengthAdjust="spacingAndGlyphs" letter-spacing="0.06em" word-spacing="0.22em">−10</text>
<text x="833.6" y="548.7" font-size="18.6" fill="#0000ff" text-anchor="start" textLength="35.9" lengthAdjust="spacingAndGlyphs" letter-spacing="0.06em" word-spacing="0.22em">−10</text>
<text x="898" y="546.7" font-size="18.6" fill="#0000ff" text-anchor="start" textLength="35.9" lengthAdjust="spacingAndGlyphs" letter-spacing="0.06em" word-spacing="0.22em">−10</text>
<text x="961.3" y="545.1" font-size="18.6" fill="#0000ff" text-anchor="start" textLength="35.9" lengthAdjust="spacingAndGlyphs" letter-spacing="0.06em" word-spacing="0.22em">−10</text>
<text x="1025.6" y="540.1" font-size="18.6" fill="#0000ff" text-anchor="start" textLength="35.9" lengthAdjust="spacingAndGlyphs" letter-spacing="0.06em" word-spacing="0.22em">−10</text>
<text x="1089.6" y="533.7" font-size="18.6" fill="#0000ff" text-anchor="start" textLength="35.9" lengthAdjust="spacingAndGlyphs" letter-spacing="0.06em" word-spacing="0.22em">−10</text>
<text x="268.6" y="960.5" font-size="18.6" fill="#3c003c" text-anchor="start" textLength="12.4" lengthAdjust="spacingAndGlyphs" letter-spacing="0.06em" word-spacing="0.22em">0</text>
<text x="845" y="942.8" font-size="18.6" fill="#3c003c" text-anchor="start" textLength="12.4" lengthAdjust="spacingAndGlyphs" letter-spacing="0.06em" word-spacing="0.22em">0</text>
</g>
<g clip-path="url(#pc)" fill="none" stroke="#404040" stroke-width="3.6" stroke-linejoin="round">
<path d="M194.5 201.7 C196.4 201.7 203.3 200.7 210 201.7 C216.7 202.7 238.4 207.7 250 210 C261.6 212.3 293.5 219.1 306.7 221 C319.9 222.9 346.8 224.9 360 226 C373.2 227.1 405.1 229.1 416.7 230 C428.3 230.9 443.1 232.4 456.7 233.3 C470.3 234.2 517.2 236.1 530 237.3 C542.8 238.5 552.6 240.7 563 243 C573.4 245.3 602.3 253.3 616.7 256.7 C631.1 260.1 667 268.5 683 271.7 C699 274.9 738 281.5 750 283.3 C762 285.1 771 286.4 783 286.7 C795 287 834.8 286.3 850 286 C865.2 285.7 898.4 284.3 910 284.3 C921.6 284.3 938 285.1 946.7 286 C955.4 286.9 971.7 289.6 982.7 291.5 C993.7 293.4 1025.8 299.5 1038.3 301.7 C1050.8 303.9 1076.1 307.8 1086.7 310 C1097.3 312.2 1118.4 317.6 1126.7 320 C1135 322.4 1152 328.8 1155.5 330"/>
<path d="M194.5 268.6 C196.4 268.7 203.3 268.6 210 269.3 C216.7 270 238.4 273 250 274.3 C261.6 275.6 294.7 279.2 306.7 280.4 C318.7 281.6 336.8 283.5 350 284.7 C363.2 285.9 400.7 289.2 416.7 290 C432.7 290.8 469.4 290.9 483 291.7 C496.6 292.5 520 295.3 530 296.7 C540 298.1 556.3 301.3 566.7 303.3 C577.1 305.3 602.7 310.9 616.7 313.3 C630.7 315.7 666.2 321.1 683 323.3 C699.8 325.5 740.7 330.4 756.7 331.7 C772.7 333 801.5 333.8 816.7 334.3 C831.9 334.8 871 335.5 883 336 C895 336.5 906.7 336.8 916.7 338.3 C926.7 339.8 954.1 345.7 966.7 348.3 C979.3 350.9 1010.5 357.6 1021.7 360 C1032.9 362.4 1049.8 365.3 1060 368.3 C1070.2 371.3 1095.2 381.4 1106.7 385 C1118.2 388.6 1149.6 396.7 1155.5 398.3"/>
<path d="M194.5 313.3 C201.2 314.1 236.5 318.4 250 320 C263.5 321.6 293.5 325.3 306.7 326.7 C319.9 328.1 349.6 331 360 331.7 C370.4 332.4 382.2 332.2 393 332.3 C403.8 332.4 439.2 332.5 450 332.7 C460.8 332.9 475 333.4 483 334.3 C491 335.2 508.7 338.2 516.7 340 C524.7 341.8 539.2 346.7 550 349.5 C560.8 352.3 591.9 360.2 606.7 363.3 C621.5 366.4 651.8 371 673 375 C694.2 379 763 393.1 783 396.7 C803 400.3 828 403 840 405 C852 407 873.8 411.2 883 413.3 C892.2 415.4 906.7 419.8 916.7 422.5 C926.7 425.2 954.1 432.4 966.7 436 C979.3 439.6 1010.9 448.6 1021.7 452.7 C1032.5 456.8 1047.3 465.5 1056.7 470 C1066.1 474.5 1090.8 485.8 1100 490 C1109.2 494.2 1126.3 502.4 1133 505 C1139.7 507.6 1152.8 510.9 1155.5 511.7"/>
<path d="M194.5 367.5 C203.6 368.9 251.7 376.3 270 379 C288.3 381.7 333.4 387.3 347 390.4 C360.6 393.5 373.9 400.1 383 404.5 C392.1 408.9 414.2 422 423 426.7 C431.8 431.4 448.7 439.9 456.7 443.3 C464.7 446.7 480.8 451.8 490 455 C499.2 458.2 521 466.2 533 470 C545 473.8 577.2 483.2 590 486.7 C602.8 490.2 627.6 496.4 640 499.5 C652.4 502.6 681.7 508.8 693.3 512.2 C704.9 515.6 727.9 524 736.7 527.5 C745.5 531 760.3 539 766.7 541.7 C773.1 544.4 780 546.8 790 550 C800 553.2 836.8 564.9 850 568.3 C863.2 571.7 890 576.5 900 578.5 C910 580.5 924.1 583 933.3 585 C942.5 587 964.7 593 976.7 595 C988.7 597 1021.7 600.3 1033.3 601.7 C1044.9 603.1 1064.5 604.9 1073.3 606.7 C1082.1 608.5 1096.8 613.4 1106.7 616.7 C1116.6 620 1149.6 632.2 1155.5 634.3"/>
<path d="M194.5 523.3 C196.4 523.4 202.1 522.8 210 524 C217.9 525.2 248.4 531.1 260 533.3 C271.6 535.5 295.1 540.8 306.7 542.7 C318.3 544.6 341.5 547.7 356.7 549 C371.9 550.3 418.1 552.2 433.3 553.3 C448.5 554.4 473.3 557.2 483.3 558.3 C493.3 559.4 508.3 561.7 516.7 562.7 C525.1 563.7 543.5 565.9 553.3 566.7 C563.1 567.5 586.2 568.9 598.3 569.5 C610.4 570.1 642.1 570.6 654.3 571.7 C666.5 572.8 688.5 576.1 700 578.3 C711.5 580.5 738 587 750 590 C762 593 788 600.1 800 603.3 C812 606.5 838 613.9 850 616.7 C862 619.5 888 623.9 900 626.7 C912 629.5 938 637.2 950 640 C962 642.8 988 647.4 1000 650 C1012 652.6 1039.6 658.5 1050 661.7 C1060.4 664.9 1077.5 673.1 1086.7 676.7 C1095.9 680.3 1118.4 688.9 1126.7 691.7 C1135 694.5 1152 699 1155.5 700"/>
<path d="M194.5 583.3 C196.4 583.5 205.3 584 210 585 C214.7 586 228.1 590.2 233.3 591.7 C238.5 593.2 244.5 595.7 253.3 597.3 C262.1 598.9 295.1 603.6 306.7 605 C318.3 606.4 332.8 608.4 350 609 C367.2 609.6 430 609.5 450 610 C470 610.5 503.5 612.4 516.7 613.3 C529.9 614.2 550 616.6 560 617.3 C570 618 589.6 618.9 600 619.3 C610.4 619.7 634 620.3 646.3 621 C658.6 621.7 690.3 623.7 702.7 625 C715.1 626.3 736.3 629.1 750 631.7 C763.7 634.3 800.7 642.9 816.7 646.7 C832.7 650.5 867.3 659.7 883.3 663.3 C899.3 666.9 936 673.5 950 676.5 C964 679.5 988 684.7 1000 688.3 C1012 691.9 1038 702.1 1050 706.7 C1062 711.3 1090 722.7 1100 726.7 C1110 730.7 1126.6 737.9 1133.3 740 C1140 742.1 1152.8 743.5 1155.5 744"/>
<path d="M194.5 626.7 C196.4 626.9 204.1 627.1 210 628.3 C215.9 629.5 234.5 634.7 243.3 636.7 C252.1 638.7 272.1 643.3 283.3 645 C294.5 646.7 325.5 649.6 336.7 650.7 C347.9 651.8 363.1 653.6 376.7 654 C390.3 654.4 433.2 654 450 654.3 C466.8 654.6 504.7 656.1 516.7 656.7 C528.7 657.3 538 658.7 550 659.3 C562 659.9 600.7 660.8 616.7 661.7 C632.7 662.6 667.3 665.3 683.3 666.7 C699.3 668.1 734 671.5 750 673.3 C766 675.1 800.7 679.3 816.7 681.7 C832.7 684.1 867.3 689.9 883.3 693.3 C899.3 696.7 936 706 950 710 C964 714 988 722.5 1000 726.7 C1012 730.9 1039.6 741 1050 745 C1060.4 749 1078.7 756.4 1086.7 760 C1094.7 763.6 1110.3 772.1 1116.7 775 C1123.1 777.9 1135.3 782.7 1140 784 C1144.7 785.3 1153.6 785.8 1155.5 786"/>
<path d="M194.5 665 C197.2 665.6 210 668.4 216.7 670 C223.4 671.6 242 676.6 250 678.3 C258 680 272.9 682.9 283.3 684.3 C293.7 685.7 324.7 688.8 336.7 690 C348.7 691.2 369.7 693.5 383.3 694 C396.9 694.5 434 694 450 694.3 C466 694.6 504.7 696.1 516.7 696.7 C528.7 697.3 538 698.4 550 699 C562 699.6 601.3 700.9 616.7 701.7 C632.1 702.5 664.2 704.6 678.3 706 C692.4 707.4 721.7 711.8 734.3 713.3 C746.9 714.8 771.4 716.7 783.3 718.3 C795.2 719.9 821.3 724.5 833.3 726.7 C845.3 728.9 871.3 734.3 883.3 736.7 C895.3 739.1 921.3 744.4 933.3 747 C945.3 749.6 973.3 755.3 983.3 758.3 C993.3 761.3 1008.7 768.3 1016.7 771.7 C1024.7 775.1 1041.6 782.9 1050 786.7 C1058.4 790.5 1078.7 799.5 1086.7 803.3 C1094.7 807.1 1111.1 815.3 1116.7 818.3 C1122.3 821.3 1128.6 824.7 1133.3 828.3 C1138 831.9 1152.8 845.9 1155.5 848.3"/>
<path d="M194.5 701.7 C197.2 702.3 208.8 704.8 216.7 706.7 C224.6 708.6 248 715.2 260 717.3 C272 719.4 301.9 722.4 316.7 724 C331.5 725.6 367.3 729.5 383.3 730.7 C399.3 731.9 434 733.3 450 734.3 C466 735.3 504.7 738.2 516.7 739 C528.7 739.8 538 739.9 550 740.7 C562 741.5 600.7 744.5 616.7 746 C632.7 747.5 667.3 751.7 683.3 753.3 C699.3 754.9 734 757.8 750 759.3 C766 760.8 802.7 763.9 816.7 766 C830.7 768.1 852.7 773.5 866.7 776.7 C880.7 779.9 917.3 788.5 933.3 792.7 C949.3 796.9 986.8 807.2 1000 811.7 C1013.2 816.2 1036.1 825.8 1043.3 830 C1050.5 834.2 1055.6 841.5 1060 846.7 C1064.4 851.9 1075.6 867 1080 873 C1084.4 879 1092.7 891 1096.7 897 C1100.7 903 1111.4 916.5 1113.3 923.3 C1115.2 930.1 1115.1 946.5 1112.7 953.3 C1110.3 960.1 1096.8 973.6 1093.3 980 C1089.8 986.4 1084.5 1003.5 1083.3 1006.7"/>
<path d="M1056.7 1035 L1057.3 1038.5"/>
<path d="M194.5 737.7 C199.2 738.8 222.6 744.6 233.3 746.7 C244 748.8 269.3 753.1 283.3 755 C297.3 756.9 334 760.8 350 762.3 C366 763.8 398.7 766.2 416.7 767.7 C434.7 769.2 484 773.2 500 775 C516 776.8 538 781.1 550 782.7 C562 784.3 590.4 787.2 600 788.3 C609.6 789.4 619.6 790.1 630 791.5 C640.4 792.9 672.3 798.3 686.7 800 C701.1 801.7 734.4 804.4 750 806 C765.6 807.6 800.7 810.9 816.7 813 C832.7 815.1 869.3 820.9 883.3 823.3 C897.3 825.7 922.5 830.5 933.3 833.3 C944.1 836.1 965.3 843.5 973.3 846.7 C981.3 849.9 994.8 856 1000 860 C1005.2 864 1013.6 876 1016.7 880 C1019.8 884 1025.2 888 1026 893.3 C1026.8 898.6 1025.2 919.2 1023.3 924 C1021.4 928.8 1014.8 931 1010 933.3 C1005.2 935.6 992.9 940.7 983.3 943.3 C973.7 945.9 940.4 952.2 930 955 C919.6 957.8 903.7 963.5 896.7 966.7 C889.7 969.9 875.7 977.3 871.7 981.7 C867.7 986.1 865.3 998.7 863.3 1003.3 C861.3 1007.9 857.5 1015.8 855 1020 C852.5 1024.2 844.2 1036.1 842.7 1038.3"/>
<path d="M194.5 777.7 C199.2 778.6 222.6 783.1 233.3 785 C244 786.9 269.3 791.5 283.3 793.3 C297.3 795.1 334 798.6 350 800 C366 801.4 400.7 803.5 416.7 805 C432.7 806.5 469.3 810.3 483.3 812.3 C497.3 814.3 519.3 818.8 533.3 821.7 C547.3 824.6 586.4 833.4 600 836.7 C613.6 840 634 846.8 646.3 849.3 C658.6 851.8 688.3 855 702.7 857.3 C717.1 859.6 753 866.2 766.7 868.7 C780.4 871.2 806.7 875.9 816.7 877.8 C826.7 879.7 840.4 882.5 850 884.4 C859.6 886.3 891.1 892.8 896.7 894"/>
<path d="M896.7 894 C893.1 895.1 873.5 900.8 866.7 903.3 C859.9 905.8 845.2 912.2 840 915 C834.8 917.8 829.3 923.2 823.3 926.7 C817.3 930.2 796.8 941.1 790 944 C783.2 946.9 772.7 949.8 766.7 950.7 C760.7 951.6 746 952.3 740 951.7 C734 951.1 721.9 947.1 716.7 946 C711.5 944.9 701.5 942.9 696.7 942.7 C691.9 942.5 681.9 942.7 676.7 944 C671.5 945.3 657.7 950.6 653.3 953.3 C648.9 956 643.2 963.2 640 966.7 C636.8 970.2 628.9 978.7 626.7 982.7 C624.5 986.7 623.3 995.5 621.7 1000 C620.1 1004.5 615.7 1015.5 613.3 1020 C610.9 1024.5 603.1 1035.2 601.7 1037.3"/>
</g>
<g clip-path="url(#pc)">
<rect x="359.5" y="213.5" width="56" height="29" fill="#fff" stroke="#000" stroke-width="1.25"/>
<text x="363.9" y="237.3" font-size="27.6" fill="#000" text-anchor="start" textLength="48.6" lengthAdjust="spacingAndGlyphs" letter-spacing="0.06em" word-spacing="0.22em">324</text>
<rect x="359.5" y="275.5" width="56" height="27" fill="#fff" stroke="#000" stroke-width="1.25"/>
<text x="363.9" y="298.3" font-size="27.6" fill="#000" text-anchor="start" textLength="48.6" lengthAdjust="spacingAndGlyphs" letter-spacing="0.06em" word-spacing="0.22em">320</text>
<rect x="391.5" y="318.5" width="55" height="29" fill="#fff" stroke="#000" stroke-width="1.25"/>
<text x="395.4" y="342.3" font-size="27.6" fill="#000" text-anchor="start" textLength="48.6" lengthAdjust="spacingAndGlyphs" letter-spacing="0.06em" word-spacing="0.22em">316</text>
<rect x="534.5" y="464.5" width="56" height="29" fill="#fff" stroke="#000" stroke-width="1.25"/>
<text x="538.9" y="488.3" font-size="27.6" fill="#000" text-anchor="start" textLength="48.6" lengthAdjust="spacingAndGlyphs" letter-spacing="0.06em" word-spacing="0.22em">312</text>
<rect x="598.5" y="556.5" width="56" height="28" fill="#fff" stroke="#000" stroke-width="1.25"/>
<text x="602.9" y="579.8" font-size="27.6" fill="#000" text-anchor="start" textLength="48.6" lengthAdjust="spacingAndGlyphs" letter-spacing="0.06em" word-spacing="0.22em">308</text>
<rect x="646.5" y="607.5" width="56" height="29" fill="#fff" stroke="#000" stroke-width="1.25"/>
<text x="650.9" y="631.3" font-size="27.6" fill="#000" text-anchor="start" textLength="48.6" lengthAdjust="spacingAndGlyphs" letter-spacing="0.06em" word-spacing="0.22em">304</text>
<rect x="678.5" y="695.5" width="56" height="29" fill="#fff" stroke="#000" stroke-width="1.25"/>
<text x="682.9" y="719.3" font-size="27.6" fill="#000" text-anchor="start" textLength="48.6" lengthAdjust="spacingAndGlyphs" letter-spacing="0.06em" word-spacing="0.22em">296</text>
<rect x="630.5" y="781.5" width="56" height="28" fill="#fff" stroke="#000" stroke-width="1.25"/>
<text x="634.9" y="804.8" font-size="27.6" fill="#000" text-anchor="start" textLength="48.6" lengthAdjust="spacingAndGlyphs" letter-spacing="0.06em" word-spacing="0.22em">288</text>
<rect x="646.5" y="838.5" width="56" height="29" fill="#fff" stroke="#000" stroke-width="1.25"/>
<text x="650.9" y="862.3" font-size="27.6" fill="#000" text-anchor="start" textLength="48.6" lengthAdjust="spacingAndGlyphs" letter-spacing="0.06em" word-spacing="0.22em">284</text>
<rect x="982.5" y="281.5" width="56" height="29" fill="#fff" stroke="#000" stroke-width="1.25"/>
<text x="986.9" y="305.3" font-size="27.6" fill="#000" text-anchor="start" textLength="48.6" lengthAdjust="spacingAndGlyphs" letter-spacing="0.06em" word-spacing="0.22em">324</text>
<rect x="966.5" y="340.5" width="55" height="28" fill="#fff" stroke="#000" stroke-width="1.25"/>
<text x="970.4" y="363.8" font-size="27.6" fill="#000" text-anchor="start" textLength="48.6" lengthAdjust="spacingAndGlyphs" letter-spacing="0.06em" word-spacing="0.22em">320</text>
<rect x="966.5" y="430.5" width="55" height="28" fill="#fff" stroke="#000" stroke-width="1.25"/>
<text x="970.4" y="453.8" font-size="27.6" fill="#000" text-anchor="start" textLength="48.6" lengthAdjust="spacingAndGlyphs" letter-spacing="0.06em" word-spacing="0.22em">316</text>
<rect x="1046.5" y="1006.5" width="55" height="29" fill="#fff" stroke="#000" stroke-width="1.25"/>
<text x="1050.4" y="1030.3" font-size="27.6" fill="#000" text-anchor="start" textLength="48.6" lengthAdjust="spacingAndGlyphs" letter-spacing="0.06em" word-spacing="0.22em">292</text>
</g>
<g clip-path="url(#pc)" fill="none" stroke="#ff9664" stroke-width="2.9" stroke-linejoin="round">
<path d="M1033.5 179.5 C1033.1 180.8 1025.2 203.3 1025 206 C1024.8 208.7 1029.9 231 1030 233 C1030.1 235 1027.5 245.3 1027 246.5 C1026.5 247.7 1020.9 255.9 1020 257 C1019.1 258.1 1010.1 266.8 1009 268 C1007.9 269.2 998.5 279.3 997 281 C995.5 282.7 978.3 298.8 978.3 301.7 C978.3 304.6 996 335.9 996.7 338.3 C997.5 340.7 994.2 348.5 993.3 350 C992.4 351.5 981.3 367 978.3 368.3 C975.3 369.6 935.8 374.5 933 375.5 C930.2 376.5 922.5 387.7 922 388.3"/>
<path d="M910 418.3 C909.6 420.1 902.1 449.3 902 453.3 C901.9 457.3 907.1 494.9 908 498.3 C908.9 501.7 918.9 518.8 920 521 C921.1 523.2 929.1 540 930 543.3 C930.9 546.6 937.3 582.9 938.3 586.7 C939.3 590.5 948.8 616.9 950 620 C951.2 623.1 960.2 645.5 961.7 648.3 C963.2 651.1 978.4 674.3 980 676.7 C981.6 679.1 990.6 693.5 993.3 696.7 C996 699.9 1029.3 735.7 1033.3 740 C1037.3 744.3 1069.6 779.6 1073.3 783.3 C1077 787 1104.4 812 1106.7 814 C1109 816 1118.7 821.7 1120 822.5 C1121.3 823.3 1132.2 829.5 1133.5 830.3 C1134.8 831.1 1143.9 837.9 1145 838.5 C1146.1 839.1 1155 843.1 1155.5 843.3"/>
<path d="M1155.5 214 C1154.7 213.5 1141.6 205.3 1140 204.5 C1138.4 203.7 1125.2 198.9 1123.5 198.5 C1121.8 198.1 1107.7 196.9 1106 197 C1104.3 197.1 1092 199.4 1090.5 200 C1089 200.6 1077.9 206.8 1077 208 C1076.1 209.2 1073 221.7 1072.5 224 C1072 226.3 1068.4 251.6 1068 254 C1067.6 256.4 1064.3 269.9 1064 272 C1063.7 274.1 1062.5 294.1 1062.7 296 C1062.9 297.9 1067.3 309.1 1068 311 C1068.7 312.9 1075 332.6 1076 335 C1077 337.4 1087.8 357.2 1089 359 C1090.2 360.8 1098.1 367.3 1100 370 C1101.9 372.7 1125.1 409.2 1126.7 413.3 C1128.3 417.4 1133 448 1132.7 451.7 C1132.4 455.4 1121.4 483.5 1120 486.7 C1118.6 489.9 1105 513.3 1104 515 C1103 516.7 1100.2 520.7 1100 521"/>
<path d="M1084 550.7 C1083.2 552.8 1069.2 588.8 1068.3 593.3 C1067.4 597.8 1066.5 636.8 1066.7 640 C1067 643.2 1072.2 653.9 1073.3 656.7 C1074.4 659.5 1086.1 693.2 1088.3 696.7 C1090.5 700.2 1113.3 723.4 1116.7 726.7 C1120.1 730 1153.6 761.5 1155.5 763.3"/>
<path d="M1155.5 241 C1154.7 240.7 1141.6 235.4 1140 235 C1138.4 234.6 1124.9 232.9 1123.5 233 C1122.1 233.1 1112.9 235.4 1112 236 C1111.1 236.6 1106.2 242.3 1105.5 244 C1104.8 245.7 1098.5 267 1098 269 C1097.5 271 1095.8 282.4 1095.7 284 C1095.6 285.6 1096.2 298.9 1096.5 300.5 C1096.8 302.1 1100.4 315.1 1101 317 C1101.6 318.9 1107.5 335.9 1108.5 338 C1109.5 340.1 1120.8 357.1 1122 359 C1123.2 360.9 1131.6 374.3 1133.3 376.7 C1135 379.1 1154.4 405.2 1155.5 406.7"/>
<path d="M1155.5 278.7 C1154.7 278.9 1139.7 281.8 1138.5 282.5 C1137.3 283.2 1133 292 1132.5 293 C1132 294 1128.7 300.6 1128.7 302 C1128.7 303.4 1131.4 319.8 1131.7 321.5 C1132 323.2 1133.8 334.6 1134.7 336.5 C1135.6 338.4 1149.5 357.6 1150.5 359 C1151.5 360.4 1155.2 363.8 1155.5 364"/>
<path d="M1141.5 179.5 L1155.5 186.5"/>
<rect x="891.5" y="388.5" width="46" height="29" stroke-width="1.2"/>
<rect x="1075.5" y="521.5" width="30" height="29" stroke-width="1.2"/>
</g>
<g clip-path="url(#pc)">
<text x="895.7" y="411.1" font-size="25.5" fill="#ff9664" text-anchor="start" textLength="38.8" lengthAdjust="spacingAndGlyphs" letter-spacing="0.06em" word-spacing="0.22em">.15</text>
<text x="1079" y="544.5" font-size="25.5" fill="#ff9664" text-anchor="start" textLength="23.5" lengthAdjust="spacingAndGlyphs" letter-spacing="0.06em" word-spacing="0.22em">.3</text>
</g>
<g clip-path="url(#pc)" fill="none" stroke="#000" stroke-linecap="round" stroke-linejoin="miter">
<path d="M306.7 221 L196 225.5 M220.5 213.9 L196 225.5 M221.4 235.1 L196 225.5" stroke-width="1.25"/>
<path d="M418.7 227.5 L317.5 225.5 M340.5 216.3 L317.5 225.5 M340.1 235.6 L317.5 225.5" stroke-width="1.25"/>
<path d="M530.7 233.5 L432.5 237.5 M454.3 227.2 L432.5 237.5 M455 246 L432.5 237.5" stroke-width="1.25"/>
<path d="M642.7 237 L538.3 237.3 M561.8 227.2 L538.3 237.3 M561.9 247.2 L538.3 237.3" stroke-width="1.25"/>
<path d="M754.7 237.3 L645 235 M670 225 L645 235 M669.5 246 L645 235" stroke-width="1.25"/>
<path d="M866.7 237.3 L755 235 M780.4 224.8 L755 235 M780 246.2 L755 235" stroke-width="1.25"/>
<path d="M978.7 237.3 L875 229 M899.2 220.9 L875 229 M897.6 240.8 L875 229" stroke-width="1.25"/>
<path d="M1090.7 236.7 L985 232.7 M1009.2 223.5 L985 232.7 M1008.5 243.7 L985 232.7" stroke-width="1.25"/>
<path d="M306.7 282.7 L236.7 287.3 M252 279.6 L236.7 287.3 M252.9 293 L236.7 287.3" stroke-width="1.4"/>
<path d="M418.7 289.3 L353.3 283.3 M368.6 278.4 L353.3 283.3 M367.5 290.9 L353.3 283.3" stroke-width="1.4"/>
<path d="M530.7 296 L470 303.3 M483 295.8 L470 303.3 M484.4 307.5 L470 303.3" stroke-width="1.4"/>
<path d="M642.7 302.5 L580 305 M593.9 298.4 L580 305 M594.4 310.4 L580 305" stroke-width="1.4"/>
<path d="M754.7 302.3 L690 303.3 M704.5 296.9 L690 303.3 M704.7 309.3 L690 303.3" stroke-width="1.4"/>
<path d="M866.7 301.7 L808.3 300 M821.6 294.8 L808.3 300 M821.3 306 L808.3 300" stroke-width="1.4"/>
<path d="M978.7 301.7 L915 301.7 M929.4 295.6 L915 301.7 M929.4 307.8 L915 301.7" stroke-width="1.4"/>
<path d="M1090.7 300.7 L1005 300.7 M1024.3 292.5 L1005 300.7 M1024.3 308.9 L1005 300.7" stroke-width="1.25"/>
<path d="M306.7 350 L260 353.3 M270.2 348.1 L260 353.3 M270.8 357 L260 353.3" stroke-width="1.4"/>
<path d="M418.7 359 L373.3 346 M384.8 344.6 L373.3 346 M382.3 353.3 L373.3 346" stroke-width="1.4"/>
<path d="M530.7 367.7 L485 375 M494.6 369 L485 375 M496 377.7 L485 375" stroke-width="1.4"/>
<path d="M642.7 375 L596.7 377 M606.9 372.1 L596.7 377 M607.3 381 L596.7 377" stroke-width="1.4"/>
<path d="M754.7 375 L711.7 371.7 M721.7 368.3 L711.7 371.7 M721.1 376.6 L711.7 371.7" stroke-width="1.4"/>
<path d="M866.7 374 L824 366.7 M834.3 364.3 L824 366.7 M832.9 372.4 L824 366.7" stroke-width="1.4"/>
<path d="M978.7 374 L940 382.2 M947.9 376.6 L940 382.2 M949.5 384.1 L940 382.2" stroke-width="1.8"/>
<path d="M1090.7 373.3 L1050 390 M1057.6 382.3 L1050 390 M1060.8 390.1 L1050 390" stroke-width="1.4"/>
<path d="M306.7 426 L265 427.3 M274.3 423 L265 427.3 M274.5 431 L265 427.3" stroke-width="1.4"/>
<path d="M418.7 436 L377.3 424 M387.8 422.7 L377.3 424 M385.5 430.7 L377.3 424" stroke-width="1.4"/>
<path d="M530.7 446.7 L489.3 454 M497.9 448.4 L489.3 454 M499.3 456.3 L489.3 454" stroke-width="1.4"/>
<path d="M642.7 455 L603.3 455 M612.2 451.2 L603.3 455 M612.2 458.8 L603.3 455" stroke-width="1.8"/>
<path d="M754.7 455 L713.3 449 M723.2 446.4 L713.3 449 M722.1 454.3 L713.3 449" stroke-width="1.4"/>
<path d="M866.7 455 L824 440.7 M835 439.8 L824 440.7 M832.3 448 L824 440.7" stroke-width="1.4"/>
<path d="M978.7 455 L939.3 455 M948.2 451.2 L939.3 455 M948.2 458.8 L939.3 455" stroke-width="1.8"/>
<path d="M1090.7 454 L1056.7 473.3 M1062.5 465.7 L1056.7 473.3 M1066.2 472.2 L1056.7 473.3" stroke-width="1.8"/>
<path d="M306.7 510.7 L270.7 510.7 M278.8 507.3 L270.7 510.7 M278.8 514.1 L270.7 510.7" stroke-width="1.8"/>
<path d="M418.7 522.7 L383.3 510.7 M392.4 510 L383.3 510.7 M390.1 516.8 L383.3 510.7" stroke-width="1.8"/>
<path d="M530.7 536 L498.3 540 M505.2 536 L498.3 540 M506 542.2 L498.3 540" stroke-width="1.8"/>
<path d="M642.7 544.3 L613.3 544.3 M619.9 541.5 L613.3 544.3 M619.9 547.1 L613.3 544.3" stroke-width="1.8"/>
<path d="M754.7 544.3 L722.7 540 M730.3 537.9 L722.7 540 M729.5 544 L722.7 540" stroke-width="1.8"/>
<path d="M866.7 545 L831.7 531.7 M840.9 531.3 L831.7 531.7 M838.3 538 L831.7 531.7" stroke-width="1.8"/>
<path d="M978.7 544 L941.7 543.3 M950.1 539.9 L941.7 543.3 M950 547 L941.7 543.3" stroke-width="1.8"/>
<path d="M1090.7 543.3 L1053.3 559.3 M1060.2 552.1 L1053.3 559.3 M1063.3 559.3 L1053.3 559.3" stroke-width="1.4"/>
<path d="M306.7 605 L287.3 607.3 M291.5 604.9 L287.3 607.3 M291.9 608.6 L287.3 607.3" stroke-width="1.8"/>
<path d="M418.7 619 L400 610 M405.1 610.2 L400 610 M403.4 613.8 L400 610" stroke-width="1.8"/>
<path d="M530.7 634 L516.7 637.3 M519.5 635.2 L516.7 637.3 M520.2 637.9 L516.7 637.3" stroke-width="1.8"/>
<path d="M642.7 645 L626.7 645 M630.3 643.5 L626.7 645 M630.3 646.5 L626.7 645" stroke-width="1.8"/>
<path d="M754.7 645 L737.7 639 M742.1 638.7 L737.7 639 M741 642 L737.7 639" stroke-width="1.8"/>
<path d="M866.7 645 L848.3 635 M853.4 635.5 L848.3 635 M851.5 639 L848.3 635" stroke-width="1.8"/>
<path d="M978.7 645.7 L953.3 645.7 M959 643.3 L953.3 645.7 M959 648.1 L953.3 645.7" stroke-width="1.8"/>
<path d="M1090.7 642.7 L1059.3 655.7 M1065.1 649.8 L1059.3 655.7 M1067.6 655.8 L1059.3 655.7" stroke-width="1.8"/>
<path d="M306.7 710 L308.3 710.7 M306.7 710.7 L308.3 710.7 M307.2 709.5 L308.3 710.7" stroke-width="1.5"/>
<path d="M418.7 725 L420 720 M420.2 721.6 L420 720 M419 721.3 L420 720" stroke-width="1.5"/>
<path d="M530.7 741.7 L535 747.3 M533.5 746.4 L535 747.3 M534.6 745.6 L535 747.3" stroke-width="1.5"/>
<path d="M649 759.3 L641.7 755 M643.8 755.3 L641.7 755 M642.9 756.7 L641.7 755" stroke-width="1.5"/>
<path d="M753.3 757.3 L760 753.3 M758.9 754.8 L760 753.3 M758.1 753.6 L760 753.3" stroke-width="1.5"/>
<path d="M866 756 L866 748.3 M866.7 750 L866 748.3 M865.3 750 L866 748.3" stroke-width="1.5"/>
<path d="M978.3 755 L979 758.3 M978.1 757 L979 758.3 M979.3 756.7 L979 758.3" stroke-width="1.5"/>
<path d="M1090.7 753.3 L1092.7 768.3 M1090.8 765.1 L1092.7 768.3 M1093.7 764.7 L1092.7 768.3" stroke-width="1.8"/>
<path d="M306.7 781 L314 781 M312.4 781.7 L314 781 M312.4 780.3 L314 781" stroke-width="1.5"/>
<path d="M418.7 798.3 L426 795 M424.7 796.4 L426 795 M424 795 L426 795" stroke-width="1.5"/>
<path d="M530.7 818.3 L534 821.7 M532.5 821.1 L534 821.7 M533.4 820.2 L534 821.7" stroke-width="1.5"/>
<path d="M641.7 832.7 L644.3 834.3 M642.7 834.1 L644.3 834.3 M643.4 833 L644.3 834.3" stroke-width="1.5"/>
<path d="M754 831.7 L759 830 M757.8 831.1 L759 830 M757.4 829.9 L759 830" stroke-width="1.5"/>
<path d="M866 832.3 L870.7 828.3 M870 829.7 L870.7 828.3 M869.2 828.8 L870.7 828.3" stroke-width="1.5"/>
<path d="M978.3 830.7 L984.3 829.3 M983 830.2 L984.3 829.3 M982.7 829 L984.3 829.3" stroke-width="1.5"/>
<path d="M1090 829.3 L1098.3 839.3 M1095.5 837.8 L1098.3 839.3 M1097.4 836.3 L1098.3 839.3" stroke-width="1.8"/>
<path d="M306.7 839.3 L312.7 839.3 M311.2 839.9 L312.7 839.3 M311.2 838.7 L312.7 839.3" stroke-width="1.5"/>
<path d="M418.7 859.3 L425 856 M423.9 857.3 L425 856 M423.3 856.1 L425 856" stroke-width="1.5"/>
<path d="M530.7 878.3 L535 884 M533.5 883.1 L535 884 M534.6 882.3 L535 884" stroke-width="1.5"/>
<path d="M641.7 895 L649 897.3 M647.1 897.5 L649 897.3 M647.6 896.1 L649 897.3" stroke-width="1.5"/>
<path d="M753.3 894.3 L761.7 892.7 M760 893.9 L761.7 892.7 M759.7 892.3 L761.7 892.7" stroke-width="1.5"/>
<path d="M865 893.3 L875 891.7 M872.9 893 L875 891.7 M872.6 891.1 L875 891.7" stroke-width="1.5"/>
<path d="M978.3 893.3 L990 893.3 M987.4 894.4 L990 893.3 M987.4 892.2 L990 893.3" stroke-width="1.5"/>
<path d="M1090.7 895 L1101.7 897.7 M1099 898.1 L1101.7 897.7 M1099.5 896 L1101.7 897.7" stroke-width="1.5"/>
<path d="M306.7 897.7 L312.7 897.7 M311.2 898.3 L312.7 897.7 M311.2 897.1 L312.7 897.7" stroke-width="1.5"/>
<path d="M418.7 917.3 L426 916.7 M424.4 917.5 L426 916.7 M424.3 916.1 L426 916.7" stroke-width="1.5"/>
<path d="M530.7 938.3 L539.3 944.3 M536.8 943.8 L539.3 944.3 M537.9 942.1 L539.3 944.3" stroke-width="1.5"/>
<path d="M641.7 956 L653.3 956.7 M650.6 957.7 L653.3 956.7 M650.8 955.4 L653.3 956.7" stroke-width="1.5"/>
<path d="M754 956 L768.3 956.7 M765 957.9 L768.3 956.7 M765.1 955.2 L768.3 956.7" stroke-width="1.8"/>
<path d="M866 955.7 L882.7 953.3 M879.2 955.4 L882.7 953.3 M878.7 952.2 L882.7 953.3" stroke-width="1.8"/>
<path d="M978.3 955 L995 955 M991.2 956.6 L995 955 M991.2 953.4 L995 955" stroke-width="1.8"/>
<path d="M1090.7 954 L1109.3 957.3 M1104.8 958.3 L1109.3 957.3 M1105.4 954.8 L1109.3 957.3" stroke-width="1.8"/>
<path d="M306.7 975.7 L311.7 977.3 M310.1 977.4 L311.7 977.3 M310.5 976.3 L311.7 977.3" stroke-width="1.5"/>
<path d="M418.7 997.3 L423.3 995 M422.3 996.2 L423.3 995 M421.7 995.1 L423.3 995" stroke-width="1.5"/>
<path d="M530.7 1020.7 L537.3 1021.3 M535.8 1021.8 L537.3 1021.3 M535.9 1020.5 L537.3 1021.3" stroke-width="1.5"/>
<path d="M641.7 1038.7 L656 1038.7 M652.8 1040.1 L656 1038.7 M652.8 1037.3 L656 1038.7" stroke-width="1.8"/>
<path d="M754 1038.7 L768.3 1038.7 M765.1 1040.1 L768.3 1038.7 M765.1 1037.3 L768.3 1038.7" stroke-width="1.8"/>
<path d="M866 1038.7 L883.3 1038.7 M879.4 1040.4 L883.3 1038.7 M879.4 1037 L883.3 1038.7" stroke-width="1.8"/>
<path d="M978.3 1038 L995 1038 M991.2 1039.6 L995 1038 M991.2 1036.4 L995 1038" stroke-width="1.8"/>
<path d="M1090.7 1037.3 L1108.3 1037.3 M1104.3 1039 L1108.3 1037.3 M1104.3 1035.6 L1108.3 1037.3" stroke-width="1.8"/>
<path d="M195 775 L200 777.7 M198.4 777.6 L200 777.7 M199 776.5 L200 777.7" stroke-width="1.5"/>
<path d="M195 832.7 L200 835 M198.4 835 L200 835 M198.9 833.8 L200 835" stroke-width="1.5"/>
<path d="M195 888.3 L200 889.3 M198.4 889.6 L200 889.3 M198.7 888.4 L200 889.3" stroke-width="1.5"/>
<path d="M195 966.7 L199 967.7 M197.4 967.9 L199 967.7 M197.7 966.7 L199 967.7" stroke-width="1.5"/>
</g>
<g stroke="#000" stroke-width="1" fill="none" shape-rendering="crispEdges">
<rect x="194.5" y="179.5" width="960" height="876" stroke-width="1.15"/>
<path d="M194.5 191.5 h6 M1154.5 191.5 h-6 M194.5 203.5 h6 M1154.5 203.5 h-6 M194.5 215.5 h6 M1154.5 215.5 h-6 M194.5 227.5 h6 M1154.5 227.5 h-6 M194.5 239.5 h6 M1154.5 239.5 h-6 M194.5 251.5 h6 M1154.5 251.5 h-6 M194.5 263.5 h6 M1154.5 263.5 h-6 M194.5 275.5 h6 M1154.5 275.5 h-6 M194.5 287.5 h6 M1154.5 287.5 h-6 M194.5 299.5 h12.5 M1154.5 299.5 h-12.5 M194.5 311.5 h6 M1154.5 311.5 h-6 M194.5 323.5 h6 M1154.5 323.5 h-6 M194.5 335.5 h6 M1154.5 335.5 h-6 M194.5 347.5 h6 M1154.5 347.5 h-6 M194.5 359.5 h6 M1154.5 359.5 h-6 M194.5 371.5 h6 M1154.5 371.5 h-6 M194.5 383.5 h6 M1154.5 383.5 h-6 M194.5 395.5 h6 M1154.5 395.5 h-6 M194.5 407.5 h6 M1154.5 407.5 h-6 M194.5 419.5 h12.5 M1154.5 419.5 h-12.5 M194.5 431.5 h6 M1154.5 431.5 h-6 M194.5 443.5 h6 M1154.5 443.5 h-6 M194.5 455.5 h6 M1154.5 455.5 h-6 M194.5 467.5 h6 M1154.5 467.5 h-6 M194.5 479.5 h6 M1154.5 479.5 h-6 M194.5 491.5 h6 M1154.5 491.5 h-6 M194.5 503.5 h6 M1154.5 503.5 h-6 M194.5 515.5 h6 M1154.5 515.5 h-6 M194.5 527.5 h6 M1154.5 527.5 h-6 M194.5 539.5 h12.5 M1154.5 539.5 h-12.5 M194.5 551.5 h6 M1154.5 551.5 h-6 M194.5 563.5 h6 M1154.5 563.5 h-6 M194.5 575.5 h6 M1154.5 575.5 h-6 M194.5 587.5 h6 M1154.5 587.5 h-6 M194.5 599.5 h6 M1154.5 599.5 h-6 M194.5 611.5 h6 M1154.5 611.5 h-6 M194.5 623.5 h6 M1154.5 623.5 h-6 M194.5 635.5 h6 M1154.5 635.5 h-6 M194.5 647.5 h6 M1154.5 647.5 h-6 M194.5 659.5 h12.5 M1154.5 659.5 h-12.5 M194.5 671.5 h6 M1154.5 671.5 h-6 M194.5 683.5 h6 M1154.5 683.5 h-6 M194.5 695.5 h6 M1154.5 695.5 h-6 M194.5 707.5 h6 M1154.5 707.5 h-6 M194.5 719.5 h6 M1154.5 719.5 h-6 M194.5 731.5 h6 M1154.5 731.5 h-6 M194.5 743.5 h6 M1154.5 743.5 h-6 M194.5 755.5 h6 M1154.5 755.5 h-6 M194.5 767.5 h6 M1154.5 767.5 h-6 M194.5 779.5 h12.5 M1154.5 779.5 h-12.5 M194.5 791.5 h6 M1154.5 791.5 h-6 M194.5 803.5 h6 M1154.5 803.5 h-6 M194.5 815.5 h6 M1154.5 815.5 h-6 M194.5 827.5 h6 M1154.5 827.5 h-6 M194.5 839.5 h6 M1154.5 839.5 h-6 M194.5 851.5 h6 M1154.5 851.5 h-6 M194.5 863.5 h6 M1154.5 863.5 h-6 M194.5 875.5 h6 M1154.5 875.5 h-6 M194.5 887.5 h6 M1154.5 887.5 h-6 M194.5 899.5 h12.5 M1154.5 899.5 h-12.5 M194.5 911.5 h6 M1154.5 911.5 h-6 M194.5 923.5 h6 M1154.5 923.5 h-6 M194.5 935.5 h6 M1154.5 935.5 h-6 M194.5 947.5 h6 M1154.5 947.5 h-6 M194.5 959.5 h6 M1154.5 959.5 h-6 M194.5 971.5 h6 M1154.5 971.5 h-6 M194.5 983.5 h6 M1154.5 983.5 h-6 M194.5 995.5 h6 M1154.5 995.5 h-6 M194.5 1007.5 h6 M1154.5 1007.5 h-6 M194.5 1019.5 h12.5 M1154.5 1019.5 h-12.5 M194.5 1031.5 h6 M1154.5 1031.5 h-6 M194.5 1043.5 h6 M1154.5 1043.5 h-6 M221.5 179.5 v6 M221.5 1055.5 v-6 M247.5 179.5 v6 M247.5 1055.5 v-6 M274.5 179.5 v6 M274.5 1055.5 v-6 M300.5 179.5 v6 M300.5 1055.5 v-6 M327.5 179.5 v6 M327.5 1055.5 v-6 M353.5 179.5 v6 M353.5 1055.5 v-6 M380.5 179.5 v6 M380.5 1055.5 v-6 M406.5 179.5 v6 M406.5 1055.5 v-6 M433.5 179.5 v6 M433.5 1055.5 v-6 M459.5 179.5 v12.5 M459.5 1055.5 v-12.5 M485.5 179.5 v6 M485.5 1055.5 v-6 M512.5 179.5 v6 M512.5 1055.5 v-6 M538.5 179.5 v6 M538.5 1055.5 v-6 M565.5 179.5 v6 M565.5 1055.5 v-6 M591.5 179.5 v6 M591.5 1055.5 v-6 M618.5 179.5 v6 M618.5 1055.5 v-6 M644.5 179.5 v6 M644.5 1055.5 v-6 M671.5 179.5 v6 M671.5 1055.5 v-6 M697.5 179.5 v6 M697.5 1055.5 v-6 M723.5 179.5 v12.5 M723.5 1055.5 v-12.5 M750.5 179.5 v6 M750.5 1055.5 v-6 M776.5 179.5 v6 M776.5 1055.5 v-6 M803.5 179.5 v6 M803.5 1055.5 v-6 M829.5 179.5 v6 M829.5 1055.5 v-6 M856.5 179.5 v6 M856.5 1055.5 v-6 M882.5 179.5 v6 M882.5 1055.5 v-6 M909.5 179.5 v6 M909.5 1055.5 v-6 M935.5 179.5 v6 M935.5 1055.5 v-6 M961.5 179.5 v6 M961.5 1055.5 v-6 M988.5 179.5 v12.5 M988.5 1055.5 v-12.5 M1014.5 179.5 v6 M1014.5 1055.5 v-6 M1041.5 179.5 v6 M1041.5 1055.5 v-6 M1067.5 179.5 v6 M1067.5 1055.5 v-6 M1094.5 179.5 v6 M1094.5 1055.5 v-6 M1120.5 179.5 v6 M1120.5 1055.5 v-6 M1147.5 179.5 v6 M1147.5 1055.5 v-6 "/>
</g>
<g shape-rendering="crispEdges">
<rect x="1190.5" y="179.5" width="19" height="27.7" fill="#ff0808"/>
<rect x="1190.5" y="206.9" width="19" height="27.7" fill="#ff1818"/>
<rect x="1190.5" y="234.2" width="19" height="27.7" fill="#ff2828"/>
<rect x="1190.5" y="261.6" width="19" height="27.7" fill="#ff3838"/>
<rect x="1190.5" y="289" width="19" height="27.7" fill="#ff4848"/>
<rect x="1190.5" y="316.4" width="19" height="27.7" fill="#ff5858"/>
<rect x="1190.5" y="343.8" width="19" height="27.7" fill="#ff6868"/>
<rect x="1190.5" y="371.1" width="19" height="27.7" fill="#ff7878"/>
<rect x="1190.5" y="398.5" width="19" height="27.7" fill="#ff8787"/>
<rect x="1190.5" y="425.9" width="19" height="27.7" fill="#ff9797"/>
<rect x="1190.5" y="453.2" width="19" height="27.7" fill="#ffa7a7"/>
<rect x="1190.5" y="480.6" width="19" height="27.7" fill="#ffb7b7"/>
<rect x="1190.5" y="508" width="19" height="27.7" fill="#ffc7c7"/>
<rect x="1190.5" y="535.4" width="19" height="27.7" fill="#ffd7d7"/>
<rect x="1190.5" y="562.8" width="19" height="27.7" fill="#ffe7e7"/>
<rect x="1190.5" y="590.1" width="19" height="27.7" fill="#fff7f7"/>
<rect x="1190.5" y="617.5" width="19" height="27.7" fill="#f7f7ff"/>
<rect x="1190.5" y="644.9" width="19" height="27.7" fill="#e7e7ff"/>
<rect x="1190.5" y="672.2" width="19" height="27.7" fill="#d7d7ff"/>
<rect x="1190.5" y="699.6" width="19" height="27.7" fill="#c7c7ff"/>
<rect x="1190.5" y="727" width="19" height="27.7" fill="#b7b7ff"/>
<rect x="1190.5" y="754.4" width="19" height="27.7" fill="#a7a7ff"/>
<rect x="1190.5" y="781.8" width="19" height="27.7" fill="#9797ff"/>
<rect x="1190.5" y="809.1" width="19" height="27.7" fill="#8787ff"/>
<rect x="1190.5" y="836.5" width="19" height="27.7" fill="#7878ff"/>
<rect x="1190.5" y="863.9" width="19" height="27.7" fill="#6868ff"/>
<rect x="1190.5" y="891.2" width="19" height="27.7" fill="#5858ff"/>
<rect x="1190.5" y="918.6" width="19" height="27.7" fill="#4848ff"/>
<rect x="1190.5" y="946" width="19" height="27.7" fill="#3838ff"/>
<rect x="1190.5" y="973.4" width="19" height="27.7" fill="#2828ff"/>
<rect x="1190.5" y="1000.8" width="19" height="27.7" fill="#1818ff"/>
<rect x="1190.5" y="1028.1" width="19" height="27.7" fill="#0808ff"/>
<path d="M1190.5 207.5 H1209.5 M1190.5 234.5 H1209.5 M1190.5 262.5 H1209.5 M1190.5 289.5 H1209.5 M1190.5 316.5 H1209.5 M1190.5 344.5 H1209.5 M1190.5 371.5 H1209.5 M1190.5 398.5 H1209.5 M1190.5 426.5 H1209.5 M1190.5 453.5 H1209.5 M1190.5 481.5 H1209.5 M1190.5 508.5 H1209.5 M1190.5 535.5 H1209.5 M1190.5 563.5 H1209.5 M1190.5 590.5 H1209.5 M1190.5 618.5 H1209.5 M1190.5 645.5 H1209.5 M1190.5 672.5 H1209.5 M1190.5 700.5 H1209.5 M1190.5 727.5 H1209.5 M1190.5 754.5 H1209.5 M1190.5 782.5 H1209.5 M1190.5 809.5 H1209.5 M1190.5 836.5 H1209.5 M1190.5 864.5 H1209.5 M1190.5 891.5 H1209.5 M1190.5 919.5 H1209.5 M1190.5 946.5 H1209.5 M1190.5 973.5 H1209.5 M1190.5 1001.5 H1209.5 M1190.5 1028.5 H1209.5 " stroke="#000" stroke-width="1" fill="none"/>
<rect x="1190.5" y="179.5" width="19" height="876" stroke="#000" stroke-width="1" fill="none"/>
</g>
<text x="1223.3" y="1008.4" font-size="22.6" fill="#000" text-anchor="start" textLength="43.5" lengthAdjust="spacingAndGlyphs" letter-spacing="0.06em" word-spacing="0.22em">−28</text>
<text x="1223.3" y="953.6" font-size="22.6" fill="#000" text-anchor="start" textLength="43.5" lengthAdjust="spacingAndGlyphs" letter-spacing="0.06em" word-spacing="0.22em">−24</text>
<text x="1223.3" y="898.9" font-size="22.6" fill="#000" text-anchor="start" textLength="43.5" lengthAdjust="spacingAndGlyphs" letter-spacing="0.06em" word-spacing="0.22em">−20</text>
<text x="1223.3" y="844.1" font-size="22.6" fill="#000" text-anchor="start" textLength="43.5" lengthAdjust="spacingAndGlyphs" letter-spacing="0.06em" word-spacing="0.22em">−16</text>
<text x="1223.3" y="789.4" font-size="22.6" fill="#000" text-anchor="start" textLength="43.5" lengthAdjust="spacingAndGlyphs" letter-spacing="0.06em" word-spacing="0.22em">−12</text>
<text x="1223.3" y="734.6" font-size="22.6" fill="#000" text-anchor="start" textLength="30.3" lengthAdjust="spacingAndGlyphs" letter-spacing="0.06em" word-spacing="0.22em">−8</text>
<text x="1223.3" y="679.9" font-size="22.6" fill="#000" text-anchor="start" textLength="30.3" lengthAdjust="spacingAndGlyphs" letter-spacing="0.06em" word-spacing="0.22em">−4</text>
<text x="1221.5" y="625.1" font-size="22.6" fill="#000" text-anchor="start" textLength="13.4" lengthAdjust="spacingAndGlyphs" letter-spacing="0.06em" word-spacing="0.22em">0</text>
<text x="1221.5" y="570.4" font-size="22.6" fill="#000" text-anchor="start" textLength="13.4" lengthAdjust="spacingAndGlyphs" letter-spacing="0.06em" word-spacing="0.22em">4</text>
<text x="1221.5" y="515.6" font-size="22.6" fill="#000" text-anchor="start" textLength="13.4" lengthAdjust="spacingAndGlyphs" letter-spacing="0.06em" word-spacing="0.22em">8</text>
<text x="1221.5" y="460.9" font-size="22.6" fill="#000" text-anchor="start" textLength="27.8" lengthAdjust="spacingAndGlyphs" letter-spacing="0.06em" word-spacing="0.22em">12</text>
<text x="1221.5" y="406.1" font-size="22.6" fill="#000" text-anchor="start" textLength="27.8" lengthAdjust="spacingAndGlyphs" letter-spacing="0.06em" word-spacing="0.22em">16</text>
<text x="1221.5" y="351.4" font-size="22.6" fill="#000" text-anchor="start" textLength="27.8" lengthAdjust="spacingAndGlyphs" letter-spacing="0.06em" word-spacing="0.22em">20</text>
<text x="1221.5" y="296.6" font-size="22.6" fill="#000" text-anchor="start" textLength="27.8" lengthAdjust="spacingAndGlyphs" letter-spacing="0.06em" word-spacing="0.22em">24</text>
<text x="1221.5" y="241.8" font-size="22.6" fill="#000" text-anchor="start" textLength="27.8" lengthAdjust="spacingAndGlyphs" letter-spacing="0.06em" word-spacing="0.22em">28</text>
<text x="1222" y="186.8" font-size="22.6" fill="#000" text-anchor="start" textLength="21.3" lengthAdjust="spacingAndGlyphs" letter-spacing="0.06em" word-spacing="0.22em">°C</text>
<text x="140.6" y="185.6" font-size="18.2" fill="#000" text-anchor="start" textLength="34.4" lengthAdjust="spacingAndGlyphs" letter-spacing="0.06em" word-spacing="0.22em">300</text>
<text x="140.6" y="305.6" font-size="18.2" fill="#000" text-anchor="start" textLength="34.4" lengthAdjust="spacingAndGlyphs" letter-spacing="0.06em" word-spacing="0.22em">400</text>
<text x="140.6" y="425.6" font-size="18.2" fill="#000" text-anchor="start" textLength="34.4" lengthAdjust="spacingAndGlyphs" letter-spacing="0.06em" word-spacing="0.22em">500</text>
<text x="140.6" y="545.6" font-size="18.2" fill="#000" text-anchor="start" textLength="34.4" lengthAdjust="spacingAndGlyphs" letter-spacing="0.06em" word-spacing="0.22em">600</text>
<text x="140.6" y="665.6" font-size="18.2" fill="#000" text-anchor="start" textLength="34.4" lengthAdjust="spacingAndGlyphs" letter-spacing="0.06em" word-spacing="0.22em">700</text>
<text x="140.6" y="785.6" font-size="18.2" fill="#000" text-anchor="start" textLength="34.4" lengthAdjust="spacingAndGlyphs" letter-spacing="0.06em" word-spacing="0.22em">800</text>
<text x="140.6" y="905.6" font-size="18.2" fill="#000" text-anchor="start" textLength="34.4" lengthAdjust="spacingAndGlyphs" letter-spacing="0.06em" word-spacing="0.22em">900</text>
<text x="130" y="1025.6" font-size="18.2" fill="#000" text-anchor="start" textLength="45" lengthAdjust="spacingAndGlyphs" letter-spacing="0.06em" word-spacing="0.22em">1000</text>
<text x="189.3" y="1079.7" font-size="18.2" fill="#000" text-anchor="start" textLength="11.8" lengthAdjust="spacingAndGlyphs" letter-spacing="0.06em" word-spacing="0.22em">0</text>
<text x="442.3" y="1079.7" font-size="18.2" fill="#000" text-anchor="start" textLength="34.7" lengthAdjust="spacingAndGlyphs" letter-spacing="0.06em" word-spacing="0.22em">100</text>
<text x="706.7" y="1079.7" font-size="18.2" fill="#000" text-anchor="start" textLength="34.7" lengthAdjust="spacingAndGlyphs" letter-spacing="0.06em" word-spacing="0.22em">200</text>
<text x="971.2" y="1079.7" font-size="18.2" fill="#000" text-anchor="start" textLength="34.7" lengthAdjust="spacingAndGlyphs" letter-spacing="0.06em" word-spacing="0.22em">300</text>
<text x="195" y="1105" font-size="23.5" fill="#000" text-anchor="start">N</text>
<text x="1155.5" y="1105" font-size="23.5" fill="#000" text-anchor="end">S</text>
<text x="592" y="1105" font-size="23.5" fill="#000" text-anchor="start" textLength="164" lengthAdjust="spacingAndGlyphs" letter-spacing="0.06em" word-spacing="0.22em">Distance (km)</text>
<g transform="translate(134.5,705) rotate(-90)">
<text x="0" y="0" font-size="23.5" fill="#000" text-anchor="start" textLength="175" lengthAdjust="spacingAndGlyphs" letter-spacing="0.06em" word-spacing="0.22em">Pressure (hPa)</text>
</g>
<text x="81.9" y="25.8" font-size="26.5" fill="#000" text-anchor="start" textLength="374.8" lengthAdjust="spacingAndGlyphs" letter-spacing="0.06em" word-spacing="0.22em">Init: 00 UTC Thu 03 Dec 09</text>
<text x="1065" y="25.3" font-size="26.5" fill="#000" text-anchor="start" textLength="62.5" lengthAdjust="spacingAndGlyphs" letter-spacing="0.06em" word-spacing="0.22em">Fcst:</text>
<text x="1168.5" y="25.3" font-size="26.5" fill="#000" text-anchor="start" textLength="60.5" lengthAdjust="spacingAndGlyphs" letter-spacing="0.06em" word-spacing="0.22em">66 h</text>
<text x="543.2" y="51.9" font-size="26.5" fill="#000" text-anchor="start" textLength="723.3" lengthAdjust="spacingAndGlyphs" letter-spacing="0.06em" word-spacing="0.22em">Valid: 18 UTC Sat 05 Dec 09 (13 EST Sat 05 Dec 09)</text>
<text x="87.3" y="76.4" font-size="23.8" fill="#404040" text-anchor="start" textLength="478" lengthAdjust="spacingAndGlyphs" letter-spacing="0.06em" word-spacing="0.22em">Equivalent Potential Temperature (K)</text>
<text x="87.3" y="100.7" font-size="23.8" fill="#008000" text-anchor="start" textLength="393" lengthAdjust="spacingAndGlyphs" letter-spacing="0.06em" word-spacing="0.22em">Rain Water Mixing Ratio (g/kg)</text>
<text x="87.3" y="125.3" font-size="23.8" fill="#ff9664" text-anchor="start" textLength="320.6" lengthAdjust="spacingAndGlyphs" letter-spacing="0.06em" word-spacing="0.22em">Snow Mixing Ratio (g/kg)</text>
<text x="87.3" y="149.6" font-size="23.8" fill="#ff80ff" text-anchor="start" textLength="354.7" lengthAdjust="spacingAndGlyphs" letter-spacing="0.06em" word-spacing="0.22em">Graupel Mixing Ratio (g/kg)</text>
<text x="341" y="1188.9" font-size="16.2" fill="#000" text-anchor="start" textLength="159" lengthAdjust="spacingAndGlyphs" letter-spacing="0.06em" word-spacing="0.22em">MAXIMUM VECTOR:</text>
<text x="518" y="1188.9" font-size="16.2" fill="#000" text-anchor="start" textLength="80" lengthAdjust="spacingAndGlyphs" letter-spacing="0.06em" word-spacing="0.22em">44.7 m s</text>
<text x="599" y="1182" font-size="10.5" fill="#000" text-anchor="start" textLength="13" lengthAdjust="spacingAndGlyphs" letter-spacing="0.06em" word-spacing="0.22em" font-weight="bold">−1</text>
<text x="624.5" y="1188.9" font-size="16.2" fill="#000" text-anchor="start" textLength="66" lengthAdjust="spacingAndGlyphs" letter-spacing="0.06em" word-spacing="0.22em">(HORIZ)</text>
<text x="770" y="1188.9" font-size="16.2" fill="#000" text-anchor="start" textLength="95" lengthAdjust="spacingAndGlyphs" letter-spacing="0.06em" word-spacing="0.22em">18.1 dPa s</text>
<text x="866" y="1182" font-size="10.5" fill="#000" text-anchor="start" textLength="13" lengthAdjust="spacingAndGlyphs" letter-spacing="0.06em" word-spacing="0.22em" font-weight="bold">−1</text>
<text x="891.5" y="1188.9" font-size="16.2" fill="#000" text-anchor="start" textLength="56.5" lengthAdjust="spacingAndGlyphs" letter-spacing="0.06em" word-spacing="0.22em">(VERT)</text>
<g fill="none" stroke="#000" stroke-width="1.9" stroke-linecap="round">
<path d="M1243.3 1165 V1185 H1130.7 M1156 1173.3 L1130.7 1185 L1156 1196.7"/>
<path d="M1240.6 1169.5 L1243.3 1164 L1246 1169.5 Z" fill="#000" stroke-width="1"/>
</g>
</svg>
</body></html>
